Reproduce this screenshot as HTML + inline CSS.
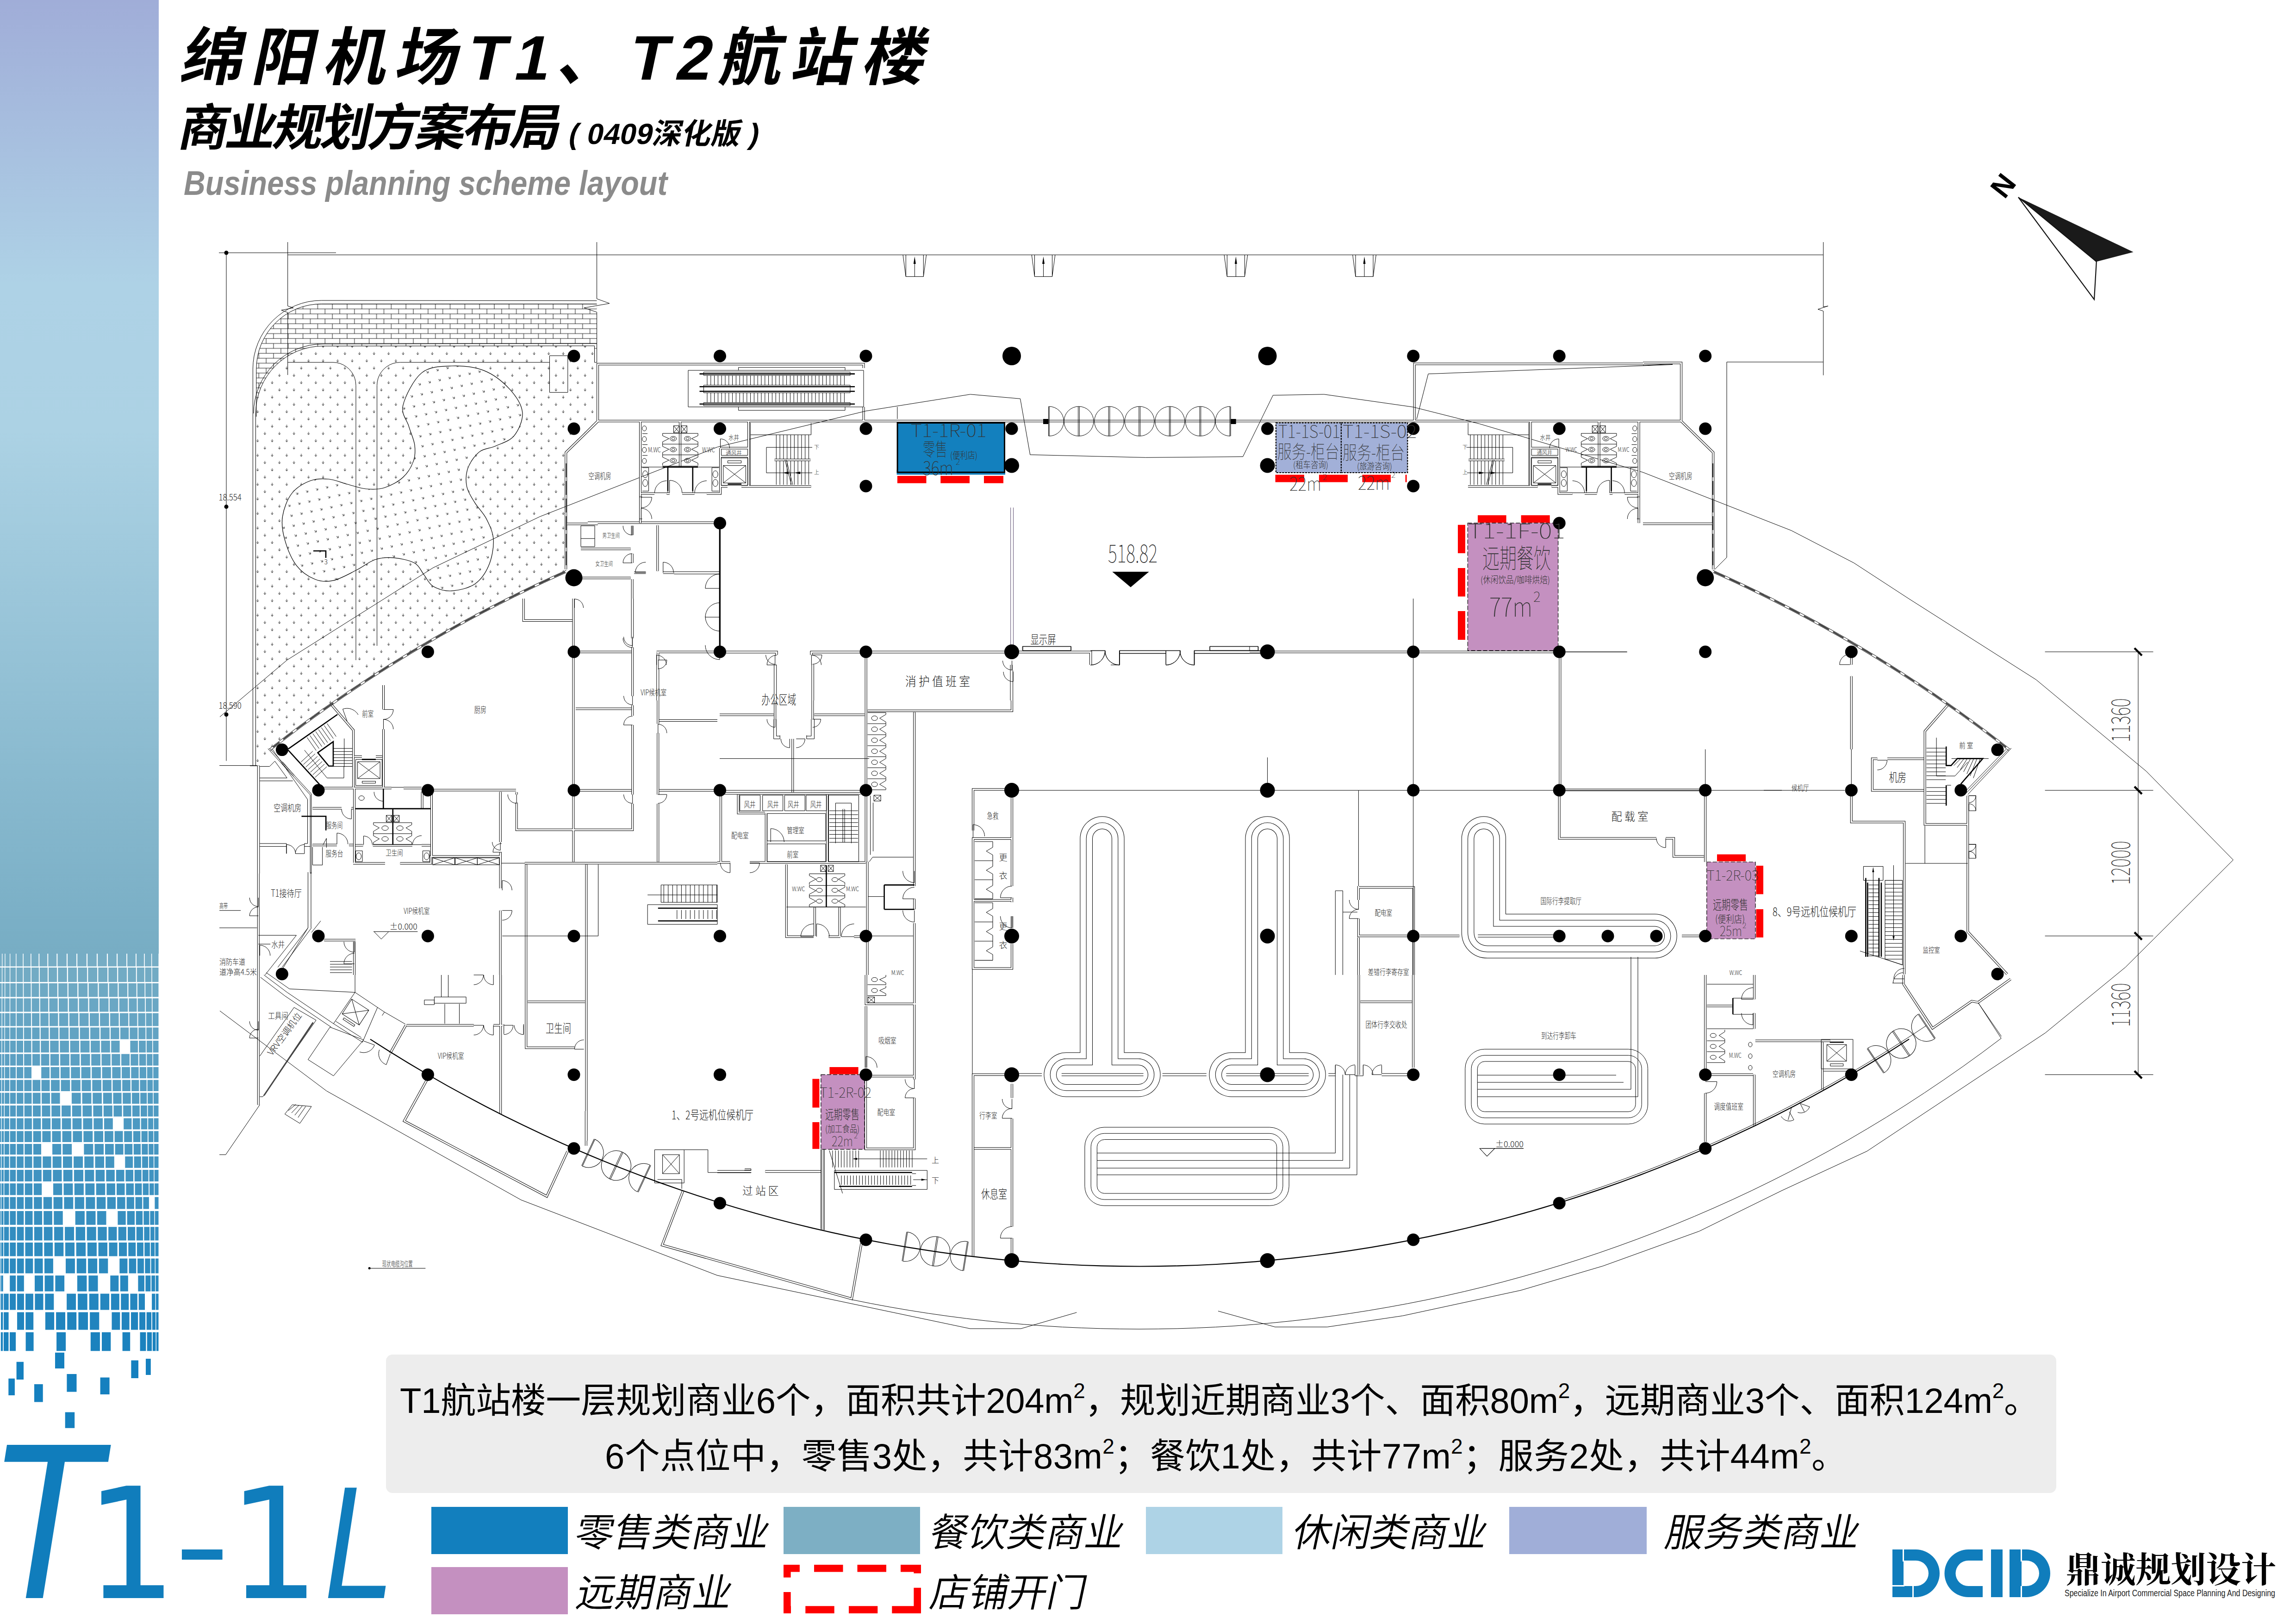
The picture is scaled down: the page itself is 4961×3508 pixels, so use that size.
<!DOCTYPE html><html lang="zh"><head><meta charset="utf-8"><title>绵阳机场T1、T2航站楼 商业规划方案布局</title><style>html,body{margin:0;padding:0;background:#fff}body{width:4961px;height:3508px;overflow:hidden}svg{display:block}</style></head><body><svg width="4961" height="3508" viewBox="0 0 4961 3508"><defs>
<linearGradient id="sb" x1="0" y1="0" x2="0" y2="1"><stop offset="0" stop-color="#a0add8"/><stop offset="0.30" stop-color="#aed2e6"/><stop offset="0.45" stop-color="#acd2e4"/><stop offset="1" stop-color="#77adc4"/></linearGradient>
</defs>
<rect x="0" y="0" width="343" height="2060" fill="url(#sb)"/>
<g id="mosaic"><path fill="#76adc5" d="M0 2058.5H4.1V2087.4H0ZM5.4 2058.5H10.3V2087.4H5.4ZM11.6 2058.5H21V2087.4H11.6ZM22.3 2058.5H34.1V2087.4H22.3ZM35.5 2058.5H49.3V2087.4H35.5ZM50.9 2058.5H66V2087.4H50.9ZM67.7 2058.5H83.4V2087.4H67.7ZM85.3 2058.5H102.3V2087.4H85.3ZM104.3 2058.5H122.3V2087.4H104.3ZM124.4 2058.5H143.9V2087.4H124.4ZM146 2058.5H165.1V2087.4H146ZM167.2 2058.5H186.9V2087.4H167.2ZM189.1 2058.5H208.9V2087.4H189.1ZM211.1 2058.5H230.9V2087.4H211.1ZM233.1 2058.5H252V2087.4H233.1ZM254.1 2058.5H273.1V2087.4H254.1ZM275.1 2058.5H293V2087.4H275.1ZM294.9 2058.5H311.1V2087.4H294.9ZM312.8 2058.5H326.9V2087.4H312.8ZM328.4 2058.5H342.5V2087.4H328.4Z"/><path fill="#72abc4" d="M0 2090.1H3.9V2121.2H0ZM5.2 2090.1H10.1V2121.2H5.2ZM11.4 2090.1H20.9V2121.2H11.4ZM22.3 2090.1H34.1V2121.2H22.3ZM35.6 2090.1H49.4V2121.2H35.6ZM51.1 2090.1H66.3V2121.2H51.1ZM68.1 2090.1H83.9V2121.2H68.1ZM85.8 2090.1H102.9V2121.2H85.8ZM105 2090.1H123.1V2121.2H105ZM125.3 2090.1H144.7V2121.2H125.3ZM147 2090.1H166.1V2121.2H147ZM168.3 2090.1H188.1V2121.2H168.3ZM190.3 2090.1H210.1V2121.2H190.3ZM212.3 2090.1H232.1V2121.2H212.3ZM234.3 2090.1H253.1V2121.2H234.3ZM255.3 2090.1H274.1V2121.2H255.3ZM276.2 2090.1H293.8V2121.2H276.2ZM295.8 2090.1H311.8V2121.2H295.8ZM313.5 2090.1H327.3V2121.2H313.5ZM328.8 2090.1H342.5V2121.2H328.8Z"/><path fill="#6ea9c4" d="M0 2124H3.8V2153.6H0ZM5.1 2124H10V2153.6H5.1ZM11.3 2124H20.9V2153.6H11.3ZM22.2 2124H34.1V2153.6H22.2ZM35.7 2124H49.6V2153.6H35.7ZM51.3 2124H66.6V2153.6H51.3ZM68.4 2124H84.3V2153.6H68.4ZM86.3 2124H103.6V2153.6H86.3ZM105.7 2124H123.9V2153.6H105.7ZM126.1 2124H145.7V2153.6H126.1ZM147.9 2124H167.2V2153.6H147.9ZM169.5 2124H189.2V2153.6H169.5ZM191.6 2124H211.3V2153.6H191.6ZM213.6 2124H233.3V2153.6H213.6ZM235.6 2124H254.3V2153.6H235.6ZM256.5 2124H275.2V2153.6H256.5ZM277.3 2124H294.7V2153.6H277.3ZM296.7 2124H312.5V2153.6H296.7ZM314.2 2124H327.7V2153.6H314.2ZM329.2 2124H342.5V2153.6H329.2Z"/><path fill="#6aa7c4" d="M0 2156.5H3.6V2185.5H0ZM4.9 2156.5H9.8V2185.5H4.9ZM11.1 2156.5H20.8V2185.5H11.1ZM22.2 2156.5H34.1V2185.5H22.2ZM35.7 2156.5H49.7V2185.5H35.7ZM51.5 2156.5H66.8V2185.5H51.5ZM68.7 2156.5H84.8V2185.5H68.7ZM86.8 2156.5H104.2V2185.5H86.8ZM106.4 2156.5H124.7V2185.5H106.4ZM127 2156.5H146.5V2185.5H127ZM148.9 2156.5H168.2V2185.5H148.9ZM170.6 2156.5H190.4V2185.5H170.6ZM192.8 2156.5H212.5V2185.5H192.8ZM214.9 2156.5H234.5V2185.5H214.9ZM236.8 2156.5H255.4V2185.5H236.8ZM257.7 2156.5H276.2V2185.5H257.7ZM278.4 2156.5H295.6V2185.5H278.4ZM297.6 2156.5H313.1V2185.5H297.6ZM314.9 2156.5H328V2185.5H314.9ZM329.6 2156.5H342.5V2185.5H329.6Z"/><path fill="#66a5c4" d="M0 2188.5H3.5V2216.5H0ZM4.8 2188.5H9.6V2216.5H4.8ZM10.9 2188.5H20.7V2216.5H10.9ZM22.1 2188.5H34.1V2216.5H22.1ZM35.8 2188.5H49.8V2216.5H35.8ZM51.6 2188.5H67.1V2216.5H51.6ZM69.1 2188.5H85.2V2216.5H69.1ZM87.3 2188.5H104.8V2216.5H87.3ZM107 2188.5H125.4V2216.5H107ZM127.8 2188.5H147.4V2216.5H127.8ZM149.9 2188.5H169.2V2216.5H149.9ZM171.7 2188.5H191.5V2216.5H171.7ZM194 2188.5H213.7V2216.5H194ZM216.1 2188.5H235.6V2216.5H216.1ZM238 2188.5H256.6V2216.5H238ZM258.9 2188.5H277.2V2216.5H258.9ZM279.4 2188.5H296.5V2216.5H279.4ZM298.5 2188.5H313.8V2216.5H298.5ZM315.5 2188.5H328.4V2216.5H315.5ZM329.9 2188.5H342.5V2216.5H329.9Z"/><path fill="#62a3c3" d="M0 2219.6H3.4V2244.8H0ZM4.7 2219.6H9.5V2244.8H4.7ZM10.8 2219.6H20.6V2244.8H10.8ZM22 2219.6H34.1V2244.8H22ZM35.8 2219.6H49.9V2244.8H35.8ZM51.8 2219.6H67.3V2244.8H51.8ZM69.4 2219.6H85.6V2244.8H69.4ZM87.8 2219.6H105.3V2244.8H87.8ZM107.7 2219.6H126.2V2244.8H107.7ZM128.6 2219.6H148.2V2244.8H128.6ZM150.7 2219.6H170.2V2244.8H150.7ZM172.7 2219.6H192.5V2244.8H172.7ZM195.1 2219.6H214.8V2244.8H195.1ZM217.3 2219.6H236.7V2244.8H217.3ZM239.1 2219.6H257.6V2244.8H239.1ZM260 2219.6H278.2V2244.8H260ZM280.4 2219.6H297.3V2244.8H280.4ZM299.3 2219.6H314.4V2244.8H299.3ZM316.2 2219.6H328.7V2244.8H316.2ZM330.3 2219.6H342.5V2244.8H330.3Z"/><path fill="#5fa2c3" d="M0 2248H3.2V2273.4H0ZM4.5 2248H9.3V2273.4H4.5ZM10.6 2248H20.5V2273.4H10.6ZM22 2248H34.1V2273.4H22ZM35.9 2248H50V2273.4H35.9ZM52 2248H67.5V2273.4H52ZM69.7 2248H86V2273.4H69.7ZM88.3 2248H105.9V2273.4H88.3ZM108.3 2248H126.8V2273.4H108.3ZM129.4 2248H149V2273.4H129.4ZM151.6 2248H171.1V2273.4H151.6ZM173.7 2248H193.5V2273.4H173.7ZM196.1 2248H215.8V2273.4H196.1ZM218.4 2248H237.7V2273.4H218.4ZM240.2 2248H258.6V2273.4H240.2ZM281.4 2248H298V2273.4H281.4ZM300.1 2248H314.9V2273.4H300.1ZM316.7 2248H329V2273.4H316.7ZM330.6 2248H342.5V2273.4H330.6Z"/><path fill="#5ca0c3" d="M0 2276.7H3.1V2301.7H0ZM4.4 2276.7H9.2V2301.7H4.4ZM10.5 2276.7H20.4V2301.7H10.5ZM22 2276.7H34.1V2301.7H22ZM35.9 2276.7H50.1V2301.7H35.9ZM52.1 2276.7H67.8V2301.7H52.1ZM70 2276.7H86.4V2301.7H70ZM88.7 2276.7H106.4V2301.7H88.7ZM108.9 2276.7H127.5V2301.7H108.9ZM130.1 2276.7H149.8V2301.7H130.1ZM152.4 2276.7H172V2301.7H152.4ZM174.7 2276.7H194.5V2301.7H174.7ZM197.2 2276.7H216.9V2301.7H197.2ZM219.5 2276.7H238.7V2301.7H219.5ZM241.3 2276.7H259.6V2301.7H241.3ZM262.1 2276.7H280V2301.7H262.1ZM282.3 2276.7H298.8V2301.7H282.3ZM300.9 2276.7H315.5V2301.7H300.9ZM317.3 2276.7H329.4V2301.7H317.3ZM330.9 2276.7H342.5V2301.7H330.9Z"/><path fill="#589fc3" d="M0 2305.1H3V2329.3H0ZM4.3 2305.1H9V2329.3H4.3ZM10.4 2305.1H20.4V2329.3H10.4ZM21.9 2305.1H34.1V2329.3H21.9ZM36 2305.1H50.2V2329.3H36ZM52.3 2305.1H68V2329.3H52.3ZM89.2 2305.1H107V2329.3H89.2ZM109.5 2305.1H128.2V2329.3H109.5ZM130.9 2305.1H150.5V2329.3H130.9ZM153.3 2305.1H172.9V2329.3H153.3ZM175.6 2305.1H195.5V2329.3H175.6ZM198.3 2305.1H217.9V2329.3H198.3ZM220.6 2305.1H239.8V2329.3H220.6ZM242.4 2305.1H260.6V2329.3H242.4ZM263.1 2305.1H280.9V2329.3H263.1ZM283.3 2305.1H299.6V2329.3H283.3ZM301.7 2305.1H316.1V2329.3H301.7ZM317.9 2305.1H329.7V2329.3H317.9ZM331.2 2305.1H342.5V2329.3H331.2Z"/><path fill="#559dc2" d="M0 2332.8H2.9V2357H0ZM4.2 2332.8H8.9V2357H4.2ZM10.3 2332.8H20.3V2357H10.3ZM21.9 2332.8H34.1V2357H21.9ZM36 2332.8H50.3V2357H36ZM52.4 2332.8H68.2V2357H52.4ZM70.5 2332.8H87.2V2357H70.5ZM89.6 2332.8H107.5V2357H89.6ZM110.1 2332.8H128.9V2357H110.1ZM131.6 2332.8H151.3V2357H131.6ZM154.1 2332.8H173.8V2357H154.1ZM176.6 2332.8H196.5V2357H176.6ZM199.3 2332.8H218.9V2357H199.3ZM221.7 2332.8H240.8V2357H221.7ZM243.4 2332.8H261.6V2357H243.4ZM264.2 2332.8H281.8V2357H264.2ZM284.2 2332.8H300.3V2357H284.2ZM302.5 2332.8H316.7V2357H302.5ZM318.5 2332.8H330V2357H318.5ZM331.6 2332.8H342.5V2357H331.6Z"/><path fill="#529cc2" d="M0 2360.6H2.8V2384.2H0ZM4.1 2360.6H8.8V2384.2H4.1ZM10.2 2360.6H20.2V2384.2H10.2ZM21.8 2360.6H34.1V2384.2H21.8ZM36.1 2360.6H50.4V2384.2H36.1ZM52.6 2360.6H68.4V2384.2H52.6ZM70.8 2360.6H87.5V2384.2H70.8ZM90.1 2360.6H108V2384.2H90.1ZM110.7 2360.6H129.5V2384.2H110.7ZM154.9 2360.6H174.6V2384.2H154.9ZM177.6 2360.6H197.4V2384.2H177.6ZM200.3 2360.6H219.9V2384.2H200.3ZM222.8 2360.6H241.8V2384.2H222.8ZM244.5 2360.6H262.6V2384.2H244.5ZM265.2 2360.6H282.7V2384.2H265.2ZM285.1 2360.6H301.1V2384.2H285.1ZM303.2 2360.6H317.2V2384.2H303.2ZM319.1 2360.6H330.3V2384.2H319.1ZM331.9 2360.6H342.5V2384.2H331.9Z"/><path fill="#4f9ac2" d="M0 2387.9H2.6V2411.7H0ZM3.9 2387.9H8.6V2411.7H3.9ZM10 2387.9H20.1V2411.7H10ZM21.8 2387.9H34.1V2411.7H21.8ZM36.1 2387.9H50.5V2411.7H36.1ZM52.7 2387.9H68.7V2411.7H52.7ZM71.1 2387.9H87.9V2411.7H71.1ZM90.5 2387.9H108.5V2411.7H90.5ZM111.3 2387.9H130.2V2411.7H111.3ZM133.1 2387.9H152.8V2411.7H133.1ZM155.8 2387.9H175.5V2411.7H155.8ZM178.5 2387.9H198.4V2411.7H178.5ZM201.4 2387.9H220.9V2411.7H201.4ZM223.8 2387.9H242.8V2411.7H223.8ZM245.5 2387.9H263.5V2411.7H245.5ZM266.2 2387.9H283.5V2411.7H266.2ZM286 2387.9H301.8V2411.7H286ZM304 2387.9H317.8V2411.7H304ZM319.6 2387.9H330.6V2411.7H319.6ZM332.2 2387.9H342.5V2411.7H332.2Z"/><path fill="#4c99c2" d="M0 2415.5H2.5V2439.4H0ZM3.8 2415.5H8.5V2439.4H3.8ZM9.9 2415.5H20V2439.4H9.9ZM21.7 2415.5H34.1V2439.4H21.7ZM36.2 2415.5H50.6V2439.4H36.2ZM52.9 2415.5H68.9V2439.4H52.9ZM71.4 2415.5H88.3V2439.4H71.4ZM91 2415.5H109.1V2439.4H91ZM111.9 2415.5H130.8V2439.4H111.9ZM133.8 2415.5H153.5V2439.4H133.8ZM156.6 2415.5H176.4V2439.4H156.6ZM179.5 2415.5H199.4V2439.4H179.5ZM202.4 2415.5H222V2439.4H202.4ZM224.9 2415.5H243.8V2439.4H224.9ZM267.2 2415.5H284.4V2439.4H267.2ZM286.9 2415.5H302.5V2439.4H286.9ZM304.8 2415.5H318.3V2439.4H304.8ZM320.2 2415.5H331V2439.4H320.2ZM332.5 2415.5H342.5V2439.4H332.5Z"/><path fill="#4998c1" d="M0 2443.3H2.4V2467H0ZM3.7 2443.3H8.3V2467H3.7ZM9.8 2443.3H19.9V2467H9.8ZM21.7 2443.3H34.1V2467H21.7ZM36.2 2443.3H50.7V2467H36.2ZM53.1 2443.3H69.1V2467H53.1ZM71.7 2443.3H88.7V2467H71.7ZM91.4 2443.3H109.6V2467H91.4ZM112.5 2443.3H131.5V2467H112.5ZM134.6 2443.3H154.3V2467H134.6ZM157.4 2443.3H177.3V2467H157.4ZM180.4 2443.3H200.3V2467H180.4ZM203.4 2443.3H223V2467H203.4ZM226 2443.3H244.8V2467H226ZM247.7 2443.3H265.5V2467H247.7ZM268.2 2443.3H285.3V2467H268.2ZM287.9 2443.3H303.3V2467H287.9ZM305.6 2443.3H318.9V2467H305.6ZM320.8 2443.3H331.3V2467H320.8ZM332.8 2443.3H342.5V2467H332.8Z"/><path fill="#4696c1" d="M0 2471H2.3V2494H0ZM3.6 2471H8.2V2494H3.6ZM9.7 2471H19.8V2494H9.7ZM21.6 2471H34.1V2494H21.6ZM36.3 2471H50.8V2494H36.3ZM53.2 2471H69.3V2494H53.2ZM72 2471H89V2494H72ZM113.1 2471H132.2V2494H113.1ZM135.3 2471H155.1V2494H135.3ZM181.4 2471H201.3V2494H181.4ZM204.5 2471H224V2494H204.5ZM227 2471H245.8V2494H227ZM248.7 2471H266.5V2494H248.7ZM269.3 2471H286.2V2494H269.3ZM288.8 2471H304V2494H288.8ZM306.3 2471H319.5V2494H306.3ZM321.3 2471H331.6V2494H321.3ZM333.1 2471H342.5V2494H333.1Z"/><path fill="#4395c1" d="M0 2498.1H2.2V2522.7H0ZM3.5 2498.1H8.1V2522.7H3.5ZM9.6 2498.1H19.7V2522.7H9.6ZM21.6 2498.1H34.1V2522.7H21.6ZM36.3 2498.1H50.9V2522.7H36.3ZM53.4 2498.1H69.5V2522.7H53.4ZM72.3 2498.1H89.4V2522.7H72.3ZM92.3 2498.1H110.6V2522.7H92.3ZM113.7 2498.1H132.8V2522.7H113.7ZM136 2498.1H155.8V2522.7H136ZM159.1 2498.1H179.1V2522.7H159.1ZM182.3 2498.1H202.3V2522.7H182.3ZM205.5 2498.1H225V2522.7H205.5ZM228.1 2498.1H246.8V2522.7H228.1ZM270.3 2498.1H287.1V2522.7H270.3ZM289.7 2498.1H304.8V2522.7H289.7ZM307.1 2498.1H320V2522.7H307.1ZM321.9 2498.1H331.9V2522.7H321.9ZM333.4 2498.1H342.5V2522.7H333.4Z"/><path fill="#4093c1" d="M0 2526.9H2V2551.9H0ZM3.3 2526.9H7.9V2551.9H3.3ZM9.4 2526.9H19.6V2551.9H9.4ZM21.5 2526.9H34.1V2551.9H21.5ZM36.4 2526.9H51V2551.9H36.4ZM53.5 2526.9H69.8V2551.9H53.5ZM72.6 2526.9H89.8V2551.9H72.6ZM92.8 2526.9H111.2V2551.9H92.8ZM114.3 2526.9H133.5V2551.9H114.3ZM136.8 2526.9H156.6V2551.9H136.8ZM159.9 2526.9H180V2551.9H159.9ZM183.3 2526.9H203.3V2551.9H183.3ZM206.6 2526.9H226.1V2551.9H206.6ZM229.3 2526.9H247.8V2551.9H229.3ZM250.9 2526.9H268.5V2551.9H250.9ZM271.4 2526.9H288V2551.9H271.4ZM290.7 2526.9H305.6V2551.9H290.7ZM307.9 2526.9H320.6V2551.9H307.9ZM322.5 2526.9H332.3V2551.9H322.5ZM333.7 2526.9H342.5V2551.9H333.7Z"/><path fill="#3d92c1" d="M0 2556.2H1.9V2581.4H0ZM3.2 2556.2H7.8V2581.4H3.2ZM9.3 2556.2H19.5V2581.4H9.3ZM21.5 2556.2H34.1V2581.4H21.5ZM36.4 2556.2H51.1V2581.4H36.4ZM53.7 2556.2H70V2581.4H53.7ZM72.9 2556.2H90.2V2581.4H72.9ZM115 2556.2H134.2V2581.4H115ZM137.6 2556.2H157.4V2581.4H137.6ZM160.8 2556.2H180.9V2581.4H160.8ZM184.4 2556.2H204.3V2581.4H184.4ZM207.7 2556.2H227.2V2581.4H207.7ZM230.4 2556.2H248.9V2581.4H230.4ZM252 2556.2H269.5V2581.4H252ZM272.4 2556.2H289V2581.4H272.4ZM291.6 2556.2H306.4V2581.4H291.6ZM308.7 2556.2H321.2V2581.4H308.7ZM323.1 2556.2H332.6V2581.4H323.1ZM334.1 2556.2H342.5V2581.4H334.1Z"/><path fill="#3a90c0" d="M0 2585.8H1.8V2611.6H0ZM3.1 2585.8H7.6V2611.6H3.1ZM9.2 2585.8H19.4V2611.6H9.2ZM21.4 2585.8H34.1V2611.6H21.4ZM36.5 2585.8H51.2V2611.6H36.5ZM53.9 2585.8H70.2V2611.6H53.9ZM73.2 2585.8H90.6V2611.6H73.2ZM93.8 2585.8H112.3V2611.6H93.8ZM115.6 2585.8H135V2611.6H115.6ZM138.4 2585.8H158.2V2611.6H138.4ZM161.7 2585.8H181.9V2611.6H161.7ZM185.4 2585.8H205.4V2611.6H185.4ZM208.8 2585.8H228.3V2611.6H208.8ZM231.6 2585.8H250V2611.6H231.6ZM253.1 2585.8H270.6V2611.6H253.1ZM273.6 2585.8H289.9V2611.6H273.6ZM292.6 2585.8H307.2V2611.6H292.6ZM309.5 2585.8H321.9V2611.6H309.5ZM334.4 2585.8H342.5V2611.6H334.4Z"/><path fill="#378fc0" d="M0 2616.1H1.6V2645.7H0ZM2.9 2616.1H7.5V2645.7H2.9ZM9 2616.1H19.3V2645.7H9ZM21.4 2616.1H34.1V2645.7H21.4ZM36.6 2616.1H51.3V2645.7H36.6ZM54.1 2616.1H70.5V2645.7H54.1ZM73.5 2616.1H91.1V2645.7H73.5ZM94.3 2616.1H112.9V2645.7H94.3ZM116.3 2616.1H135.7V2645.7H116.3ZM162.7 2616.1H182.9V2645.7H162.7ZM186.5 2616.1H206.5V2645.7H186.5ZM210 2616.1H229.5V2645.7H210ZM254.4 2616.1H271.7V2645.7H254.4ZM274.7 2616.1H291V2645.7H274.7ZM293.7 2616.1H308.1V2645.7H293.7ZM310.4 2616.1H322.5V2645.7H310.4ZM324.4 2616.1H333.3V2645.7H324.4ZM334.8 2616.1H342.5V2645.7H334.8Z"/><path fill="#338dc0" d="M0 2650.3H1.5V2679.4H0ZM2.8 2650.3H7.3V2679.4H2.8ZM8.9 2650.3H19.2V2679.4H8.9ZM21.3 2650.3H34.1V2679.4H21.3ZM36.6 2650.3H51.4V2679.4H36.6ZM54.3 2650.3H70.8V2679.4H54.3ZM73.9 2650.3H91.5V2679.4H73.9ZM94.8 2650.3H113.5V2679.4H94.8ZM117 2650.3H136.5V2679.4H117ZM140.1 2650.3H160V2679.4H140.1ZM163.7 2650.3H184V2679.4H163.7ZM187.7 2650.3H207.7V2679.4H187.7ZM211.3 2650.3H230.7V2679.4H211.3ZM234.2 2650.3H252.4V2679.4H234.2ZM255.7 2650.3H272.9V2679.4H255.7ZM276 2650.3H292.1V2679.4H276ZM294.8 2650.3H309V2679.4H294.8ZM311.4 2650.3H323.2V2679.4H311.4ZM325.1 2650.3H333.7V2679.4H325.1ZM335.2 2650.3H342.5V2679.4H335.2Z"/><path fill="#2f8cc0" d="M0 2684.1H1.3V2713.6H0ZM2.6 2684.1H7.1V2713.6H2.6ZM8.7 2684.1H19.1V2713.6H8.7ZM21.3 2684.1H34.1V2713.6H21.3ZM36.7 2684.1H51.5V2713.6H36.7ZM54.5 2684.1H71V2713.6H54.5ZM74.2 2684.1H92V2713.6H74.2ZM95.4 2684.1H114.2V2713.6H95.4ZM117.8 2684.1H137.3V2713.6H117.8ZM141 2684.1H161V2713.6H141ZM164.7 2684.1H185.1V2713.6H164.7ZM188.9 2684.1H208.9V2713.6H188.9ZM212.6 2684.1H232V2713.6H212.6ZM235.5 2684.1H253.6V2713.6H235.5ZM257 2684.1H274.2V2713.6H257ZM277.3 2684.1H293.2V2713.6H277.3ZM296 2684.1H309.9V2713.6H296ZM312.3 2684.1H323.9V2713.6H312.3ZM325.8 2684.1H334.1V2713.6H325.8ZM335.6 2684.1H342.5V2713.6H335.6Z"/><path fill="#2c8abf" d="M0 2718.4H1.2V2750.4H0ZM2.5 2718.4H6.9V2750.4H2.5ZM8.6 2718.4H19V2750.4H8.6ZM21.2 2718.4H34.1V2750.4H21.2ZM36.8 2718.4H51.6V2750.4H36.8ZM54.7 2718.4H71.3V2750.4H54.7ZM74.6 2718.4H92.5V2750.4H74.6ZM96 2718.4H114.9V2750.4H96ZM142 2718.4H161.9V2750.4H142ZM165.8 2718.4H186.2V2750.4H165.8ZM190.1 2718.4H210.1V2750.4H190.1ZM213.9 2718.4H233.3V2750.4H213.9ZM258.3 2718.4H275.4V2750.4H258.3ZM278.6 2718.4H294.3V2750.4H278.6ZM297.1 2718.4H310.9V2750.4H297.1ZM313.3 2718.4H324.6V2750.4H313.3ZM326.5 2718.4H334.6V2750.4H326.5ZM336 2718.4H342.5V2750.4H336Z"/><path fill="#2888bf" d="M0 2755.3H1V2789.5H0ZM2.3 2755.3H6.7V2789.5H2.3ZM21.2 2755.3H34.1V2789.5H21.2ZM36.8 2755.3H51.8V2789.5H36.8ZM75 2755.3H93V2789.5H75ZM96.6 2755.3H115.6V2789.5H96.6ZM119.4 2755.3H139.1V2789.5H119.4ZM166.9 2755.3H187.4V2789.5H166.9ZM191.4 2755.3H211.5V2789.5H191.4ZM238.3 2755.3H256.3V2789.5H238.3ZM259.8 2755.3H276.8V2789.5H259.8ZM298.4 2755.3H311.9V2789.5H298.4ZM314.4 2755.3H325.4V2789.5H314.4ZM327.3 2755.3H335V2789.5H327.3ZM336.4 2755.3H342.5V2789.5H336.4Z"/><path fill="#2486bf" d="M0 2794.6H0.8V2829.4H0ZM2.1 2794.6H6.5V2829.4H2.1ZM8.2 2794.6H18.7V2829.4H8.2ZM21.1 2794.6H34.1V2829.4H21.1ZM36.9 2794.6H51.9V2829.4H36.9ZM55.1 2794.6H71.9V2829.4H55.1ZM75.4 2794.6H93.5V2829.4H75.4ZM97.3 2794.6H116.3V2829.4H97.3ZM144.1 2794.6H164V2829.4H144.1ZM168.1 2794.6H188.7V2829.4H168.1ZM192.8 2794.6H212.8V2829.4H192.8ZM216.8 2794.6H236.1V2829.4H216.8ZM239.9 2794.6H257.8V2829.4H239.9ZM261.3 2794.6H278.2V2829.4H261.3ZM281.4 2794.6H296.8V2829.4H281.4ZM299.7 2794.6H313V2829.4H299.7ZM328.1 2794.6H335.5V2829.4H328.1ZM336.9 2794.6H342.5V2829.4H336.9Z"/><path fill="#2084be" d="M2 2834.6H6.3V2872.4H2ZM8.1 2834.6H18.6V2872.4H8.1ZM37 2834.6H52V2872.4H37ZM55.3 2834.6H72.2V2872.4H55.3ZM97.9 2834.6H117.1V2872.4H97.9ZM121.1 2834.6H141V2872.4H121.1ZM145.2 2834.6H165.2V2872.4H145.2ZM169.4 2834.6H190V2872.4H169.4ZM194.2 2834.6H214.3V2872.4H194.2ZM241.5 2834.6H259.3V2872.4H241.5ZM262.9 2834.6H279.6V2872.4H262.9ZM283 2834.6H298.2V2872.4H283ZM301.1 2834.6H314.1V2872.4H301.1ZM316.6 2834.6H327.1V2872.4H316.6ZM328.9 2834.6H336V2872.4H328.9ZM337.4 2834.6H342.5V2872.4H337.4Z"/><path fill="#1b82be" d="M1.8 2877.7H6.1V2918.3H1.8ZM7.9 2877.7H18.5V2918.3H7.9ZM21 2877.7H34.1V2918.3H21ZM55.6 2877.7H72.6V2918.3H55.6ZM122.1 2877.7H142.1V2918.3H122.1ZM195.8 2877.7H215.9V2918.3H195.8ZM220 2877.7H239.3V2918.3H220ZM264.6 2877.7H281.2V2918.3H264.6ZM302.6 2877.7H315.4V2918.3H302.6ZM317.8 2877.7H328V2918.3H317.8ZM329.8 2877.7H336.5V2918.3H329.8ZM337.9 2877.7H342.5V2918.3H337.9Z"/><path fill="#1580bf" d="M119 2921.8H139V2956H119ZM35.6 2941.8H51V2980H35.6ZM18.3 2977.8H31.9V3014H18.3ZM74 2990H92.7V3028.6H74ZM144.4 2968H165.5V3006.5H144.4ZM216.6 2975.6H236.6V3012H216.6ZM283.4 2938.6H299V2977H283.4ZM315 2935H325.8V2970H315ZM140.7 3050.6H161.2V3084.7H140.7Z"/></g>
<g font-family='"Liberation Sans","Noto Sans CJK SC",sans-serif'>
<text id="t1" x="0" y="0" transform="translate(386,172) skewX(-12)" font-size="136" font-weight="700" letter-spacing="18.5">绵阳机场T1、T2航站楼</text>
<text id="t2" x="0" y="0" transform="translate(381,314) skewX(-12)" font-size="108" font-weight="700" letter-spacing="-5.5">商业规划方案布局</text>
<text id="t2b" x="0" y="0" transform="translate(1226,311) skewX(-12)" font-size="63" font-weight="700" letter-spacing="0.5">( 0409深化版 )</text>
<text id="t3" x="397" y="421" font-size="74" font-weight="700" font-style="italic" fill="#8b8b8b" textLength="1045" lengthAdjust="spacingAndGlyphs">Business planning scheme layout</text>
</g>
<g id="plan" fill="none" stroke="#000" stroke-linecap="butt">
<defs><pattern id="brick" x="678.4" y="651.7" width="31.8" height="21.3" patternUnits="userSpaceOnUse"><path d="M0 5H31.8M0 15.65H31.8M8 5V15.65M23.9 15.65V21.3M23.9 0V5" stroke="#000" stroke-width="0.9" fill="none"/></pattern><pattern id="stp" x="674.4" y="757" width="31.45" height="31.4" patternUnits="userSpaceOnUse"><path d="M8 3.5V9M5.6 6.4L8 9.2L10.4 6.4M23.7 19.2V24.7M21.3 22.1L23.7 24.9L26.1 22.1" stroke="#000" stroke-width="0.85" fill="none"/></pattern><pattern id="stq" x="0" y="0" width="22" height="22" patternUnits="userSpaceOnUse" patternTransform="rotate(-12)"><path d="M8 8L12 12M12 8.5V12H8.5" stroke="#000" stroke-width="0.9" fill="none"/></pattern></defs><path d="M553.9 960L553.9 797 553.9 797 554.6 783.2 556.6 769.6 559.9 756.2 564.6 743.2 570.5 730.8 577.6 718.9 585.8 707.9 595.1 697.7 605.3 688.4 616.3 680.2 628.2 673.1 640.6 667.2 653.6 662.5 667 659.2 680.6 657.2 694.4 656.5 1289.5 656.5 1289.5 760 700 760Z" fill="url(#brick)" stroke="none"/><path d="M552.5 1654L552.5 893 552.5 893 553.2 878.7 555.3 864.6 558.8 850.8 563.6 837.3 569.7 824.4 577 812.2 585.5 800.7 595.1 790.1 605.7 780.5 617.2 772 629.4 764.7 642.3 758.6 655.8 753.8 669.6 750.3 683.7 748.2 698 747.5 1284.5 747 1284.5 782.7 1289.6 782.7 1289.6 908 1220 978.4 1220 1231 1223.5 1231.9 1207.5 1239.1 1191.5 1246.4 1175.5 1253.8 1159.5 1261.3 1143.4 1268.9 1127.4 1276.6 1111.4 1284.5 1095.4 1292.4 1079.4 1300.5 1063.4 1308.7 1047.4 1317.1 1031.3 1325.5 1015.3 1334.1 999.3 1342.8 983.3 1351.6 967.3 1360.5 951.3 1369.6 935.3 1378.8 919.3 1388.1 903.2 1397.6 887.2 1407.2 871.2 1416.9 855.2 1426.7 839.2 1436.7 823.2 1446.9 807.2 1457.2 791.2 1467.6 775.1 1478.1 759.1 1488.8 743.1 1499.7 727.1 1510.7 711.1 1521.8 695.1 1533.1 679.1 1544.6 663.1 1556.2 647 1568 631 1579.9 615 1592.1 599 1604.3 583 1616.8 583 1618 552.5 1654Z" fill="#fff" stroke="none"/><path d="M552.5 1654L552.5 893 552.5 893 553.2 878.7 555.3 864.6 558.8 850.8 563.6 837.3 569.7 824.4 577 812.2 585.5 800.7 595.1 790.1 605.7 780.5 617.2 772 629.4 764.7 642.3 758.6 655.8 753.8 669.6 750.3 683.7 748.2 698 747.5 1284.5 747 1284.5 782.7 1289.6 782.7 1289.6 908 1220 978.4 1220 1231 1223.5 1231.9 1207.5 1239.1 1191.5 1246.4 1175.5 1253.8 1159.5 1261.3 1143.4 1268.9 1127.4 1276.6 1111.4 1284.5 1095.4 1292.4 1079.4 1300.5 1063.4 1308.7 1047.4 1317.1 1031.3 1325.5 1015.3 1334.1 999.3 1342.8 983.3 1351.6 967.3 1360.5 951.3 1369.6 935.3 1378.8 919.3 1388.1 903.2 1397.6 887.2 1407.2 871.2 1416.9 855.2 1426.7 839.2 1436.7 823.2 1446.9 807.2 1457.2 791.2 1467.6 775.1 1478.1 759.1 1488.8 743.1 1499.7 727.1 1510.7 711.1 1521.8 695.1 1533.1 679.1 1544.6 663.1 1556.2 647 1568 631 1579.9 615 1592.1 599 1604.3 583 1616.8 583 1618 552.5 1654Z" fill="url(#stp)" stroke="none"/><path d="M870.8 875.7C875.4 856.5 893.4 819.8 910.9 805.6C928.4 791.4 953.5 791.4 976.0 790.5C998.5 789.7 1025.3 792.2 1046.1 800.6C1067.0 808.9 1087.4 825.6 1101.2 840.6C1115.0 855.7 1127.1 874.0 1128.8 890.7C1130.4 907.4 1120.8 928.7 1111.2 940.8C1101.6 952.9 1083.7 957.5 1071.2 963.3C1058.6 969.2 1046.1 967.9 1036.1 975.9C1026.1 983.8 1015.7 998.4 1011.1 1010.9C1006.5 1023.4 1006.1 1038.5 1008.6 1051.0C1011.1 1063.5 1019.0 1074.4 1026.1 1086.1C1033.2 1097.7 1044.5 1107.8 1051.1 1121.1C1057.8 1134.5 1065.3 1149.5 1066.2 1166.2C1067.0 1182.9 1062.8 1205.4 1056.1 1221.3C1049.5 1237.2 1039.4 1252.2 1026.1 1261.4C1012.7 1270.5 991.0 1275.6 976.0 1276.4C961.0 1277.2 945.9 1272.2 935.9 1266.4C925.9 1260.5 922.6 1249.7 915.9 1241.3C909.2 1233.0 906.7 1222.4 895.9 1216.3C885.0 1210.2 865.0 1206.0 850.8 1204.8C836.6 1203.5 824.1 1204.3 810.7 1208.8C797.4 1213.2 785.7 1223.8 770.6 1231.3C755.6 1238.8 735.6 1250.5 720.6 1253.8C705.5 1257.2 693.8 1256.8 680.5 1251.3C667.1 1245.9 651.3 1235.5 640.4 1221.3C629.6 1207.1 620.4 1183.7 615.4 1166.2C610.4 1148.7 607.9 1132.8 610.4 1116.1C612.9 1099.4 620.4 1079.0 630.4 1066.0C640.4 1053.1 657.1 1043.6 670.5 1038.5C683.8 1033.3 697.2 1033.7 710.5 1035.0C723.9 1036.2 737.3 1042.5 750.6 1046.0C764.0 1049.5 777.3 1054.7 790.7 1056.0C804.0 1057.3 817.4 1057.7 830.7 1053.5C844.1 1049.3 860.4 1040.6 870.8 1031.0C881.3 1021.4 889.2 1007.6 893.4 995.9C897.5 984.2 897.5 973.4 895.9 960.8C894.2 948.3 887.5 935.0 883.3 920.8C879.2 906.6 866.2 894.9 870.8 875.7Z" fill="#fff" stroke="none"/><path d="M870.8 875.7C875.4 856.5 893.4 819.8 910.9 805.6C928.4 791.4 953.5 791.4 976.0 790.5C998.5 789.7 1025.3 792.2 1046.1 800.6C1067.0 808.9 1087.4 825.6 1101.2 840.6C1115.0 855.7 1127.1 874.0 1128.8 890.7C1130.4 907.4 1120.8 928.7 1111.2 940.8C1101.6 952.9 1083.7 957.5 1071.2 963.3C1058.6 969.2 1046.1 967.9 1036.1 975.9C1026.1 983.8 1015.7 998.4 1011.1 1010.9C1006.5 1023.4 1006.1 1038.5 1008.6 1051.0C1011.1 1063.5 1019.0 1074.4 1026.1 1086.1C1033.2 1097.7 1044.5 1107.8 1051.1 1121.1C1057.8 1134.5 1065.3 1149.5 1066.2 1166.2C1067.0 1182.9 1062.8 1205.4 1056.1 1221.3C1049.5 1237.2 1039.4 1252.2 1026.1 1261.4C1012.7 1270.5 991.0 1275.6 976.0 1276.4C961.0 1277.2 945.9 1272.2 935.9 1266.4C925.9 1260.5 922.6 1249.7 915.9 1241.3C909.2 1233.0 906.7 1222.4 895.9 1216.3C885.0 1210.2 865.0 1206.0 850.8 1204.8C836.6 1203.5 824.1 1204.3 810.7 1208.8C797.4 1213.2 785.7 1223.8 770.6 1231.3C755.6 1238.8 735.6 1250.5 720.6 1253.8C705.5 1257.2 693.8 1256.8 680.5 1251.3C667.1 1245.9 651.3 1235.5 640.4 1221.3C629.6 1207.1 620.4 1183.7 615.4 1166.2C610.4 1148.7 607.9 1132.8 610.4 1116.1C612.9 1099.4 620.4 1079.0 630.4 1066.0C640.4 1053.1 657.1 1043.6 670.5 1038.5C683.8 1033.3 697.2 1033.7 710.5 1035.0C723.9 1036.2 737.3 1042.5 750.6 1046.0C764.0 1049.5 777.3 1054.7 790.7 1056.0C804.0 1057.3 817.4 1057.7 830.7 1053.5C844.1 1049.3 860.4 1040.6 870.8 1031.0C881.3 1021.4 889.2 1007.6 893.4 995.9C897.5 984.2 897.5 973.4 895.9 960.8C894.2 948.3 887.5 935.0 883.3 920.8C879.2 906.6 866.2 894.9 870.8 875.7Z" fill="url(#stq)" stroke="#000" stroke-width="1.2"/><g fill="none" stroke-linecap="round" stroke-linejoin="round"><path d="M2381.5 1811.4V2321.4M2303.5 2321.4H2459.5" stroke="#000" stroke-width="96.2"/><path d="M2381.5 1811.4V2321.4M2303.5 2321.4H2459.5" stroke="#fff" stroke-width="94.2"/><path d="M2381.5 1811.4V2321.4M2303.5 2321.4H2459.5" stroke="#000" stroke-width="69.6"/><path d="M2381.5 1811.4V2321.4M2303.5 2321.4H2459.5" stroke="#fff" stroke-width="67.6"/><path d="M2381.5 1811.4V2321.4M2303.5 2321.4H2459.5" stroke="#000" stroke-width="43"/><path d="M2381.5 1811.4V2321.4M2303.5 2321.4H2459.5" stroke="#fff" stroke-width="41"/></g><g fill="none" stroke-linecap="round" stroke-linejoin="round"><path d="M2738.6 1811.4V2321.4M2660.6 2321.4H2816.6" stroke="#000" stroke-width="96.2"/><path d="M2738.6 1811.4V2321.4M2660.6 2321.4H2816.6" stroke="#fff" stroke-width="94.2"/><path d="M2738.6 1811.4V2321.4M2660.6 2321.4H2816.6" stroke="#000" stroke-width="69.6"/><path d="M2738.6 1811.4V2321.4M2660.6 2321.4H2816.6" stroke="#fff" stroke-width="67.6"/><path d="M2738.6 1811.4V2321.4M2660.6 2321.4H2816.6" stroke="#000" stroke-width="43"/><path d="M2738.6 1811.4V2321.4M2660.6 2321.4H2816.6" stroke="#fff" stroke-width="41"/></g><g fill="none" stroke-linecap="round" stroke-linejoin="round"><path d="M3205.9 1811.4V2014Q3205.9 2022 3214 2022H3575.6" stroke="#000" stroke-width="96.2"/><path d="M3205.9 1811.4V2014Q3205.9 2022 3214 2022H3575.6" stroke="#fff" stroke-width="94.2"/><path d="M3205.9 1811.4V2014Q3205.9 2022 3214 2022H3575.6" stroke="#000" stroke-width="69.6"/><path d="M3205.9 1811.4V2014Q3205.9 2022 3214 2022H3575.6" stroke="#fff" stroke-width="67.6"/><path d="M3205.9 1811.4V2014Q3205.9 2022 3214 2022H3575.6" stroke="#000" stroke-width="43"/><path d="M3205.9 1811.4V2014Q3205.9 2022 3214 2022H3575.6" stroke="#fff" stroke-width="41"/></g><g stroke="#000" stroke-width="1"><rect x="2343.9" y="2435" width="441.3" height="169.4" rx="42" fill="#fff"/><rect x="3165.8" y="2266.3" width="394.7" height="161.7" rx="42" fill="#fff"/><rect x="2357.2" y="2448.3" width="414.7" height="142.8" rx="29" fill="#fff"/><rect x="3179.1" y="2279.6" width="368.1" height="135.1" rx="29" fill="#fff"/><rect x="2370.4" y="2461.5" width="388.3" height="116.4" rx="16" fill="#fff"/><rect x="3192.3" y="2292.8" width="341.7" height="108.7" rx="16" fill="#fff"/></g>
<path d="M1866 795L1866 786.6 1291.6 786.6 1291.6 909.5M1270 931L1291.6 909.5 3633.4 909.5M1866 879L1866 909M1270 1129L1542 1129M716.2 1522.1L763.6 1577.3 763.6 1700.6M828.5 1480L828.5 1532.6M828.5 1575.2L828.5 1700.6M765.6 1634.2L781.9 1634.2M812 1634.2L825.7 1634.2M700.4 1702.3L845.8 1702.3M872.1 1702.3L911 1702.3M937.3 1706.8L1115 1706.8M765.6 1703.8L765.6 1866M675.4 1745.9L738 1745.9M759.3 1745.9L763.1 1745.9M675.4 1825.2L728 1825.2M754.3 1825.2L763.1 1825.2M912.2 1710.6L912.2 1746.4M768.1 1825.9L784.4 1825.9M805.7 1825.9L890.9 1825.9M911 1825.9L929.8 1825.9M932.5 1708.6L932.5 1850M763.1 1865L832 1865M864.6 1865L931 1865 931 1850 1081.4 1850M1081.4 1710.6L1081.4 1818.4M1081.4 1840.9L1081.4 1868M558.8 1655.5L558.8 1887.1M924.4 2329L873.3 2421.5 1181.4 2584.3 1226.4 2486.7M1475.7 2572.8L1430.6 2689.5 1840.3 2805.7 1861.3 2685.5M1653.5 2530.2L1773.7 2530.2M1776.7 2482.6L1776.7 2657.9M1266.3 2400L1266.3 2475.1M1255 1185.8L1362.7 1185.8M1366.2 1135.8L1366.2 1155.8M1366.2 1195.9L1366.2 1215.9M1366.2 1251L1366.2 1378.7M1250 1248.5L1362.7 1248.5M1420.8 1134.8L1420.8 1233.4M1370.2 1236.9L1395.3 1236.9M1432.8 1236.9L1456.4 1236.9M1250 1408.2L1362.7 1408.2M1418.8 1408.2L1678.2 1408.2 1678.2 1413.7M1753.4 1413.7L1753.4 1408.2 2356.9 1408.2 2356.9 1436.3M1420.8 1413.7L1420.8 1512.9M1675.7 1436.3L1675.7 1512.9M1756.4 1436.3L1756.4 1512.9M1871.1 1411.2L1871.1 1512.9M2185.1 1436.3L2185.1 1512.9M2750.6 1408.2L3369.2 1408.2M1555 1408.7L1677.7 1408.7 1677.7 1414.7M1752.9 1414.7L1752.9 1408.7 2356.4 1408.7 2356.4 1435.7M1674.7 1435.7L1674.7 1553.5M1755.9 1435.7L1755.9 1553.5M1555 1543.9L1671.7 1543.9M1759.4 1543.9L1868.1 1543.9M1712.8 1596L1712.8 1711.2M1871.1 1411.7L1871.1 1861.5M2186.6 1448.3L2186.6 1535.4 1874.6 1535.4M1975.7 1538.4L1975.7 1879M1555 1713.7L1859.5 1713.7M1595.1 1716.2L1595.1 1756.3 1652.7 1756.3M1787.4 1716.2L1787.4 1861.5M1557.5 1716.2L1557.5 1861.5M1655.2 1757.3L1655.2 1861.5M1550 1863L1577.5 1863M1620.1 1863L1870.6 1863M1823 1747.8L1823 1819.9M1699.3 1867.5L1699.3 2023.3 1757.9 2023.3M1790.4 2023.3L1815.5 2023.3M1845.5 2023.3L1870.6 2023.3M1760.4 1960.2L1760.4 2021.8M1814 1960.2L1814 2021.8M1874.1 1861.5L1874.1 2105.9M1975.7 1879L1975.7 1914.1M1975.7 1941.6L1975.7 1964.2M1975.7 1994.2L1975.7 2105.9M2102.5 1793.9L2102.5 1705.2 2171.1 1705.2M2186.6 1723.7L2186.6 1914.1M2186.6 1939.1L2186.6 1949.1M2186.6 1979.2L2186.6 2004.2M2186.6 2039.3L2186.6 2091.9 2102.5 2091.9 2102.5 1811.4 2186.6 1811.4M2102.5 1945.1L2186.6 1945.1M2700 1408.2L3369.2 1408.2M3370.9 1410.7L3370.9 1707.2M3372.7 1706.2L3684.7 1706.2M3369.2 1709.7L3369.2 1810.9 3579 1810.9M3599.1 1810.9L3616.6 1810.9 3616.6 1850 3681.7 1850M3684.7 1709.7L3684.7 1862M2935.4 1917.1L3054.6 1917.1 3054.6 2105.9M2935.4 1984.2L2935.4 2021.8 3050.6 2021.8M2935.4 1914.1L2935.4 1944.1M2935.4 2025.3L2935.4 2105.9M3068.1 2021.8L3153.3 2021.8M3634.1 2021.8L3671.7 2021.8M1239 1293L1239 1861.5M1081.2 1711.2L1081.2 1818.9M1081.2 1844L1081.2 1861.5M1133.8 1864.5L1550 1864.5M1081.2 1867.5L1081.2 1919.1M1081.2 1966.7L1081.2 2105.9M1136.8 1867.5L1136.8 2105.9M1267 1867.5L1267 2105.9M1366.7 1293L1366.7 1375.6M1366.7 1398.2L1366.7 1503.4M1366.7 1523.4L1366.7 1545.9M1366.7 1566L1366.7 1716.2M1366.7 1736.3L1366.7 1792.4 1116.2 1792.4 1116.2 1733.8M1116.2 1711.2L1116.2 1716.2M1246.5 1408.2L1364.2 1408.2M1244 1530.9L1364.2 1530.9M1246.5 1707.2L1364.2 1707.2M1421.8 1425.7L1421.8 1408.2 1550 1408.2M1421.8 1445.8L1421.8 1563.5M1421.8 1583.5L1421.8 1716.2M1421.8 1736.3L1421.8 1861.5M1424.3 1556.5L1550 1556.5M1424.3 1707.2L1550 1707.2M1131.3 1293L1131.3 1340.6 1236.5 1340.6M558.3 1653.6L558.3 2105.9M700.5 2030.8L768.1 2030.8M765.6 2034.3L765.6 2105.9M1081.7 2106L1081.7 2406.5M1267 2106L1267 2464.1M878.3 2214.7L1023.6 2214.7M1066.2 2214.7L1085.2 2214.7M876.8 2214.7L843.3 2274.8M1136.8 2106L1136.8 2263.3 1241.5 2263.3M1140.3 2164.1L1264 2164.1M558.3 2106L558.3 2386.5M3550 784L3632.6 784 3632.6 909.7 3701.8 977.4 3701.8 1229.8M3550 1131.6L3700.3 1131.6M1292 909.7L1222.8 977.4 1222.8 1229.8M1291.6 1131.7L1224 1131.7M4251.8 1718.7L4251.8 2012.8 4336.9 2104.4M4208.2 1523.4L4159.1 1579.5 4159.1 1780.8 4251.8 1780.8M4056.4 1639.1L4045.4 1639.1 4045.4 1707.2 4156.6 1707.2M4078 1639.1L4156.6 1639.1M4000.3 1420.7L4000.3 1435.7M4000.3 1460.8L4000.3 1618.6M4000.3 1708.7L4000.3 1775.8 4114.5 1775.8 4114.5 2104.4M4113 2106L4113 2126 4175.6 2221.2 4260.3 2162.6 4274.3 2165.1 4344.4 2115M3811 2248.2L3954.8 2248.2M3937.7 2251.3L3937.7 2353.9M3684.7 2106L3684.7 2316.4M3684.7 2361.4L3684.7 2466.6M3790.4 2106L3790.4 2158.6M3790.4 2188.6L3790.4 2222.2M3790.4 2321.4L3790.4 2431.6M3688.2 2173.1L3744.3 2173.1M3688.2 2321.4L3787.9 2321.4M3792.9 2248.2L3850 2248.2M2935.9 2106L2935.9 2321.4M3053.6 2106L3053.6 2306.3M2939.4 2164.1L3050.6 2164.1M1871.1 2106L1871.1 2168.6 1978.2 2168.6M1975.7 2106L1975.7 2326.4M1871.1 2173.6L1871.1 2306.3M1874.6 2324.4L1975.7 2324.4M1975.7 2371.5L1975.7 2481.7 1870.6 2481.7 1870.6 2333.9M1975.7 2326.4L1975.7 2331.4M1653.7 2530.7L1773.9 2530.7M2102.5 2714.6L2102.5 2321.4 2171.1 2321.4M2186.6 2341.4L2186.6 2371.5M2186.6 2416.5L2186.6 2649.4M2186.6 2674.5L2186.6 2707M2105 2480.7L2186.6 2480.7M3056.2 909.5L3056.2 786 3552 786" stroke-width="5"/>
<path d="M1866 795L1866 786.6 1291.6 786.6 1291.6 909.5M1270 931L1291.6 909.5 3633.4 909.5M1866 879L1866 909M1270 1129L1542 1129M716.2 1522.1L763.6 1577.3 763.6 1700.6M828.5 1480L828.5 1532.6M828.5 1575.2L828.5 1700.6M765.6 1634.2L781.9 1634.2M812 1634.2L825.7 1634.2M700.4 1702.3L845.8 1702.3M872.1 1702.3L911 1702.3M937.3 1706.8L1115 1706.8M765.6 1703.8L765.6 1866M675.4 1745.9L738 1745.9M759.3 1745.9L763.1 1745.9M675.4 1825.2L728 1825.2M754.3 1825.2L763.1 1825.2M912.2 1710.6L912.2 1746.4M768.1 1825.9L784.4 1825.9M805.7 1825.9L890.9 1825.9M911 1825.9L929.8 1825.9M932.5 1708.6L932.5 1850M763.1 1865L832 1865M864.6 1865L931 1865 931 1850 1081.4 1850M1081.4 1710.6L1081.4 1818.4M1081.4 1840.9L1081.4 1868M558.8 1655.5L558.8 1887.1M924.4 2329L873.3 2421.5 1181.4 2584.3 1226.4 2486.7M1475.7 2572.8L1430.6 2689.5 1840.3 2805.7 1861.3 2685.5M1653.5 2530.2L1773.7 2530.2M1776.7 2482.6L1776.7 2657.9M1266.3 2400L1266.3 2475.1M1255 1185.8L1362.7 1185.8M1366.2 1135.8L1366.2 1155.8M1366.2 1195.9L1366.2 1215.9M1366.2 1251L1366.2 1378.7M1250 1248.5L1362.7 1248.5M1420.8 1134.8L1420.8 1233.4M1370.2 1236.9L1395.3 1236.9M1432.8 1236.9L1456.4 1236.9M1250 1408.2L1362.7 1408.2M1418.8 1408.2L1678.2 1408.2 1678.2 1413.7M1753.4 1413.7L1753.4 1408.2 2356.9 1408.2 2356.9 1436.3M1420.8 1413.7L1420.8 1512.9M1675.7 1436.3L1675.7 1512.9M1756.4 1436.3L1756.4 1512.9M1871.1 1411.2L1871.1 1512.9M2185.1 1436.3L2185.1 1512.9M2750.6 1408.2L3369.2 1408.2M1555 1408.7L1677.7 1408.7 1677.7 1414.7M1752.9 1414.7L1752.9 1408.7 2356.4 1408.7 2356.4 1435.7M1674.7 1435.7L1674.7 1553.5M1755.9 1435.7L1755.9 1553.5M1555 1543.9L1671.7 1543.9M1759.4 1543.9L1868.1 1543.9M1712.8 1596L1712.8 1711.2M1871.1 1411.7L1871.1 1861.5M2186.6 1448.3L2186.6 1535.4 1874.6 1535.4M1975.7 1538.4L1975.7 1879M1555 1713.7L1859.5 1713.7M1595.1 1716.2L1595.1 1756.3 1652.7 1756.3M1787.4 1716.2L1787.4 1861.5M1557.5 1716.2L1557.5 1861.5M1655.2 1757.3L1655.2 1861.5M1550 1863L1577.5 1863M1620.1 1863L1870.6 1863M1823 1747.8L1823 1819.9M1699.3 1867.5L1699.3 2023.3 1757.9 2023.3M1790.4 2023.3L1815.5 2023.3M1845.5 2023.3L1870.6 2023.3M1760.4 1960.2L1760.4 2021.8M1814 1960.2L1814 2021.8M1874.1 1861.5L1874.1 2105.9M1975.7 1879L1975.7 1914.1M1975.7 1941.6L1975.7 1964.2M1975.7 1994.2L1975.7 2105.9M2102.5 1793.9L2102.5 1705.2 2171.1 1705.2M2186.6 1723.7L2186.6 1914.1M2186.6 1939.1L2186.6 1949.1M2186.6 1979.2L2186.6 2004.2M2186.6 2039.3L2186.6 2091.9 2102.5 2091.9 2102.5 1811.4 2186.6 1811.4M2102.5 1945.1L2186.6 1945.1M2700 1408.2L3369.2 1408.2M3370.9 1410.7L3370.9 1707.2M3372.7 1706.2L3684.7 1706.2M3369.2 1709.7L3369.2 1810.9 3579 1810.9M3599.1 1810.9L3616.6 1810.9 3616.6 1850 3681.7 1850M3684.7 1709.7L3684.7 1862M2935.4 1917.1L3054.6 1917.1 3054.6 2105.9M2935.4 1984.2L2935.4 2021.8 3050.6 2021.8M2935.4 1914.1L2935.4 1944.1M2935.4 2025.3L2935.4 2105.9M3068.1 2021.8L3153.3 2021.8M3634.1 2021.8L3671.7 2021.8M1239 1293L1239 1861.5M1081.2 1711.2L1081.2 1818.9M1081.2 1844L1081.2 1861.5M1133.8 1864.5L1550 1864.5M1081.2 1867.5L1081.2 1919.1M1081.2 1966.7L1081.2 2105.9M1136.8 1867.5L1136.8 2105.9M1267 1867.5L1267 2105.9M1366.7 1293L1366.7 1375.6M1366.7 1398.2L1366.7 1503.4M1366.7 1523.4L1366.7 1545.9M1366.7 1566L1366.7 1716.2M1366.7 1736.3L1366.7 1792.4 1116.2 1792.4 1116.2 1733.8M1116.2 1711.2L1116.2 1716.2M1246.5 1408.2L1364.2 1408.2M1244 1530.9L1364.2 1530.9M1246.5 1707.2L1364.2 1707.2M1421.8 1425.7L1421.8 1408.2 1550 1408.2M1421.8 1445.8L1421.8 1563.5M1421.8 1583.5L1421.8 1716.2M1421.8 1736.3L1421.8 1861.5M1424.3 1556.5L1550 1556.5M1424.3 1707.2L1550 1707.2M1131.3 1293L1131.3 1340.6 1236.5 1340.6M558.3 1653.6L558.3 2105.9M700.5 2030.8L768.1 2030.8M765.6 2034.3L765.6 2105.9M1081.7 2106L1081.7 2406.5M1267 2106L1267 2464.1M878.3 2214.7L1023.6 2214.7M1066.2 2214.7L1085.2 2214.7M876.8 2214.7L843.3 2274.8M1136.8 2106L1136.8 2263.3 1241.5 2263.3M1140.3 2164.1L1264 2164.1M558.3 2106L558.3 2386.5M3550 784L3632.6 784 3632.6 909.7 3701.8 977.4 3701.8 1229.8M3550 1131.6L3700.3 1131.6M1292 909.7L1222.8 977.4 1222.8 1229.8M1291.6 1131.7L1224 1131.7M4251.8 1718.7L4251.8 2012.8 4336.9 2104.4M4208.2 1523.4L4159.1 1579.5 4159.1 1780.8 4251.8 1780.8M4056.4 1639.1L4045.4 1639.1 4045.4 1707.2 4156.6 1707.2M4078 1639.1L4156.6 1639.1M4000.3 1420.7L4000.3 1435.7M4000.3 1460.8L4000.3 1618.6M4000.3 1708.7L4000.3 1775.8 4114.5 1775.8 4114.5 2104.4M4113 2106L4113 2126 4175.6 2221.2 4260.3 2162.6 4274.3 2165.1 4344.4 2115M3811 2248.2L3954.8 2248.2M3937.7 2251.3L3937.7 2353.9M3684.7 2106L3684.7 2316.4M3684.7 2361.4L3684.7 2466.6M3790.4 2106L3790.4 2158.6M3790.4 2188.6L3790.4 2222.2M3790.4 2321.4L3790.4 2431.6M3688.2 2173.1L3744.3 2173.1M3688.2 2321.4L3787.9 2321.4M3792.9 2248.2L3850 2248.2M2935.9 2106L2935.9 2321.4M3053.6 2106L3053.6 2306.3M2939.4 2164.1L3050.6 2164.1M1871.1 2106L1871.1 2168.6 1978.2 2168.6M1975.7 2106L1975.7 2326.4M1871.1 2173.6L1871.1 2306.3M1874.6 2324.4L1975.7 2324.4M1975.7 2371.5L1975.7 2481.7 1870.6 2481.7 1870.6 2333.9M1975.7 2326.4L1975.7 2331.4M1653.7 2530.7L1773.9 2530.7M2102.5 2714.6L2102.5 2321.4 2171.1 2321.4M2186.6 2341.4L2186.6 2371.5M2186.6 2416.5L2186.6 2649.4M2186.6 2674.5L2186.6 2707M2105 2480.7L2186.6 2480.7M3056.2 909.5L3056.2 786 3552 786" stroke="#fff" stroke-width="3"/>
<path d="M546.4 1654L546.4 797 546.4 797 547.1 782.5 549.2 768.1 552.8 754 557.7 740.4 563.9 727.2 571.3 714.8 580 703.1 589.7 692.3 600.5 682.6 612.2 673.9 624.6 666.5 637.8 660.3 651.4 655.4 665.5 651.8 679.9 649.7 694.4 649 1289.5 649.6M553.9 900L553.9 797 553.9 797 554.6 783.2 556.6 769.6 559.9 756.2 564.6 743.2 570.5 730.8 577.6 718.9 585.8 707.9 595.1 697.7 605.3 688.4 616.3 680.2 628.2 673.1 640.6 667.2 653.6 662.5 667 659.2 680.6 657.2 694.4 656.5 1289.5 656.5M548 893L548 893 548.7 878.3 550.9 863.7 554.5 849.5 559.4 835.6 565.7 822.3 573.3 809.7 582 797.8 591.9 786.9 602.8 777 614.7 768.3 627.3 760.7 640.6 754.4 654.5 749.5 668.7 745.9 683.3 743.7 698 743 1289.5 742M552.5 1654L552.5 893 552.5 893 553.2 878.7 555.3 864.6 558.8 850.8 563.6 837.3 569.7 824.4 577 812.2 585.5 800.7 595.1 790.1 605.7 780.5 617.2 772 629.4 764.7 642.3 758.6 655.8 753.8 669.6 750.3 683.7 748.2 698 747.5 1284.5 747 1284.5 782.7 1289.6 782.7M621.7 782.7L700 782.7 719 782.7 726.8 783.3 734.5 785.1 741.7 788.1 748.4 792.2 754.4 797.3 759.5 803.3 763.6 810 766.6 817.2 768.4 824.9 769 832.7 769 1426M814.6 1395L814.6 832.7 814.6 832.7 815.2 824.9 817 817.2 820 810 824.1 803.3 829.2 797.3 835.2 792.2 841.9 788.1 849.1 785.1 856.8 783.3 864.6 782.7 1187.5 782.7M1187.5 768.4L1226.8 768.4 1226.8 847.6 1187.5 847.6ZM489 546L489 1643.6M473 546L726 546M621.7 523L621.7 661M621.7 661L634 665 608 670 621.7 675M621.7 675L621.7 810M621.7 550.6L3939.7 550.6M1289.6 523L1289.6 645.4M1289.6 645.4L1317 655.4 1262 665 1289.6 674.3 1289.6 783M3939.7 523L3939.7 663M3939.7 663L3950 661 3928 668 3939.7 672M3939.7 672L3939.7 810.6M3731 782L3939.7 782M3731 782L3731 1204 3705 1230M1951 550.6L1957.3 597.5 1995.3 597.5 2001.6 550.6M1957.3 550.6L1957.3 597.5M1995.3 550.6L1995.3 597.5M1976.3 560L1976.3 597.5M2229.2 550.6L2235.5 597.5 2273.5 597.5 2279.8 550.6M2235.5 550.6L2235.5 597.5M2273.5 550.6L2273.5 597.5M2254.5 560L2254.5 597.5M2645.1 550.6L2651.4 597.5 2689.4 597.5 2695.7 550.6M2651.4 550.6L2651.4 597.5M2689.4 550.6L2689.4 597.5M2670.4 560L2670.4 597.5M2922.7 550.6L2929 597.5 2967 597.5 2973.3 550.6M2929 550.6L2929 597.5M2967 550.6L2967 597.5M2948 560L2948 597.5M1556.5 1066L1556.5 1067.8 1558.3 1067.8 1558.3 1050.8M1487 800L1866 800 1866 879 1487 879ZM1595.6 800L1595.6 793.7 1826 793.7 1826 800M1595.6 879L1595.6 886.3 1826 886.3 1826 879M1520.5 803.7L1837 803.7 1837 811 1520.5 811ZM1520.5 832L1837 832 1837 848.5 1520.5 848.5ZM1520.5 869.5L1837 869.5 1837 876.3 1520.5 876.3ZM1528 811V832M1528 848.5V869.5M1535.8 811V832M1535.8 848.5V869.5M1543.6 811V832M1543.6 848.5V869.5M1551.4 811V832M1551.4 848.5V869.5M1559.2 811V832M1559.2 848.5V869.5M1567 811V832M1567 848.5V869.5M1574.8 811V832M1574.8 848.5V869.5M1582.6 811V832M1582.6 848.5V869.5M1590.4 811V832M1590.4 848.5V869.5M1598.2 811V832M1598.2 848.5V869.5M1606 811V832M1606 848.5V869.5M1613.8 811V832M1613.8 848.5V869.5M1621.6 811V832M1621.6 848.5V869.5M1629.4 811V832M1629.4 848.5V869.5M1637.2 811V832M1637.2 848.5V869.5M1645 811V832M1645 848.5V869.5M1652.8 811V832M1652.8 848.5V869.5M1660.6 811V832M1660.6 848.5V869.5M1668.4 811V832M1668.4 848.5V869.5M1676.2 811V832M1676.2 848.5V869.5M1684 811V832M1684 848.5V869.5M1691.8 811V832M1691.8 848.5V869.5M1699.6 811V832M1699.6 848.5V869.5M1707.4 811V832M1707.4 848.5V869.5M1715.2 811V832M1715.2 848.5V869.5M1723 811V832M1723 848.5V869.5M1730.8 811V832M1730.8 848.5V869.5M1738.6 811V832M1738.6 848.5V869.5M1746.4 811V832M1746.4 848.5V869.5M1754.2 811V832M1754.2 848.5V869.5M1762 811V832M1762 848.5V869.5M1769.8 811V832M1769.8 848.5V869.5M1777.6 811V832M1777.6 848.5V869.5M1785.4 811V832M1785.4 848.5V869.5M1793.2 811V832M1793.2 848.5V869.5M1801 811V832M1801 848.5V869.5M1808.8 811V832M1808.8 848.5V869.5M1816.6 811V832M1816.6 848.5V869.5M1824.4 811V832M1824.4 848.5V869.5M2329.7 878L2329.7 942M2332.3 878L2332.3 942M2395.3 878L2395.3 942M2397.9 878L2397.9 942M2460.9 878L2460.9 942M2463.5 878L2463.5 942M2526.5 878L2526.5 942M2529.1 878L2529.1 942M2592.1 878L2592.1 942M2594.7 878L2594.7 942M2265.5 878L2265.5 942M2267.3 878L2267.3 942M2657.3 878L2657.3 942M2659.1 878L2659.1 942M475 1548.5L620.4 1425.7 830.8 1293 936 1226.3 1166.4 1116 1550.5 965.5 1871 887.8 2096.5 851.8 2204.5 861.3 2225.8 982.3 2475.5 988.3 2685.5 986.5 2750.6 853.8 2860.8 851.8 3053.6 879.3 3196.4 915.4 3550 1020.3 3870.6 1146 4005.8 1216 4124 1293 4399.6 1468.3 4637.5 1666 4825.3 1857.5 4592.4 2089.4 4419.6 2231 4034 2486.7 3850 2571.8 3671.7 2659.5 3463.8 2734.6 3286 2787.2 3030.6 2842.3 2867.8 2866.4 2755 2866.4 2632 2832M2326.4 2835L2206 2870 2096 2870 1550 2755 1126 2592 705.5 2356.5 475 2183.6M1938.9 879L1938.9 905M1223.5 1231.9L1207.4 1239.1 1191.4 1246.4 1175.3 1253.8 1159.2 1261.4 1143.2 1269 1127.1 1276.8 1111.1 1284.7 1095 1292.6 1078.9 1300.8 1062.9 1309 1046.8 1317.4 1030.8 1325.8 1014.7 1334.4 998.6 1343.2 982.6 1352 966.5 1361 950.4 1370.1 934.4 1379.3 918.3 1388.7 902.2 1398.2 886.2 1407.8 870.1 1417.6 854.1 1427.5 838 1437.5 821.9 1447.7 805.9 1458 789.8 1468.5 773.8 1479.1 757.7 1489.8 741.6 1500.7 725.6 1511.8 709.5 1523 693.4 1534.3 677.4 1545.8 661.3 1557.5 645.2 1569.3 629.2 1581.3 613.1 1593.5 597.1 1605.8 581 1618.3M1223.5 1236.8L1207.5 1244 1191.5 1251.3 1175.5 1258.7 1159.5 1266.2 1143.6 1273.8 1127.6 1281.6 1111.6 1289.4 1095.6 1297.4 1079.6 1305.5 1063.6 1313.7 1047.6 1322 1031.7 1330.4 1015.7 1339 999.7 1347.7 983.7 1356.5 967.7 1365.5 951.7 1374.5 935.7 1383.7 919.7 1393.1 903.8 1402.5 887.8 1412.1 871.8 1421.8 855.8 1431.7 839.8 1441.7 823.8 1451.8 807.8 1462.1 791.8 1472.5 775.9 1483.1 759.9 1493.8 743.9 1504.6 727.9 1515.6 711.9 1526.8 695.9 1538.1 679.9 1549.5 663.9 1561.2 648 1572.9 632 1584.9 616 1597 600 1609.3 584 1621.7M578.9 1617.1L670.3 1716.9 670.3 1887.1M583.1 1617.1L672.8 1715.1 672.8 1887.1M587.6 1617.1L664.6 1726.9 664.6 1822.1M610.2 1645.4L636.5 1675.5M608.2 1647.2L634.5 1677.3M663.4 1593L683.3 1621.3M669.6 1588.7L689.5 1617M675.8 1584.4L695.6 1612.7M681.9 1580L701.8 1608.4M688.1 1575.7L707.9 1604.1M694.2 1571.4L714.1 1599.7M700.4 1567.1L720.3 1595.4M706.6 1562.8L726.4 1591.1M650.3 1646.1L675.8 1622.7M655.4 1651.6L680.9 1628.3M660.5 1657.2L686 1633.8M665.5 1662.7L691.1 1639.4M670.6 1668.2L696.1 1644.9M675.7 1673.8L701.2 1650.4M680.8 1679.3L706.3 1656M720.5 1616.6L761.8 1616.6M720.5 1623.4L761.8 1623.4M720.5 1629.9L761.8 1629.9M720.5 1636.7L761.8 1636.7M720.5 1642.9L761.8 1642.9M720.5 1649.2L761.8 1649.2M720.5 1655.5L761.8 1655.5M706.7 1680.5L743 1680.5 743 1655.5M657.8 1620.4L706.7 1680.5M743.8 1595.3L743.8 1656.7M828.5 1532.6L849.8 1532.6 849.5 1536 848.8 1539.2 847.5 1542.3 845.7 1545.2 843.6 1547.7 841 1549.9 838.2 1551.6 835.1 1552.9 831.8 1553.7 828.5 1553.9M828.5 1575.2L828.5 1553.9 831.8 1554.2 835.1 1555 838.2 1556.3 841 1558 843.6 1560.2 845.7 1562.7 847.5 1565.6 848.8 1568.7 849.5 1571.9 849.8 1575.2M768.6 1640.4L825.7 1640.4 825.7 1696.8 768.6 1696.8ZM772.6 1645.4L821.2 1645.4 821.2 1681.8 772.6 1681.8ZM772.6 1645.4L821.2 1681.8M821.2 1645.4L772.6 1681.8M782.6 1687.5L811.5 1687.5 811.5 1691.8 782.6 1691.8ZM845.8 1700.6L872.1 1700.6M934.8 1853L982.4 1853 982.4 1868 934.8 1868ZM934.8 1853L982.4 1868M982.4 1853L934.8 1868M983.7 1853L1031.3 1853 1031.3 1868 983.7 1868ZM983.7 1853L1031.3 1868M1031.3 1853L983.7 1868M1031.3 1853L1078.9 1853 1078.9 1868 1031.3 1868ZM1031.3 1853L1078.9 1868M1078.9 1853L1031.3 1868M759.3 1747.7L759.3 1769 756 1768.7 752.7 1768 749.6 1766.7 746.8 1764.9 744.3 1762.8 742.1 1760.2 740.3 1757.4 739.1 1754.3 738.3 1751 738 1747.7M728 1823.4L728 1799.6 731.7 1799.9 735.3 1800.7 738.8 1802.2 742 1804.1 744.8 1806.6 747.3 1809.4 749.2 1812.6 750.6 1816 751.5 1819.7 751.8 1823.4M828.3 1710.6L828.3 1730.7 825.1 1730.4 822.1 1729.7 819.1 1728.5 816.5 1726.8 814.1 1724.8 812 1722.4 810.4 1719.7 809.2 1716.8 808.4 1713.7 808.2 1710.6M785.6 1824.6L785.6 1805.9 788.6 1806.1 791.5 1806.8 794.2 1807.9 796.7 1809.4 798.9 1811.4 800.8 1813.6 802.4 1816.1 803.5 1818.8 804.2 1821.7 804.4 1824.6M911 1824.6L891.4 1824.6 891.7 1821.6 892.4 1818.6 893.5 1815.8 895.2 1813.2 897.1 1810.8 899.5 1808.8 902.1 1807.2 904.9 1806.1 907.9 1805.3 911 1805.1M1083.9 1840.9L1065.1 1840.9 1065.4 1838 1066 1835.1 1067.2 1832.4 1068.7 1829.9 1070.6 1827.6 1072.9 1825.7 1075.4 1824.2 1078.1 1823.1 1081 1822.4 1083.9 1822.1M750 1557.7L740.6 1531.8 744.3 1530.7 748.1 1530.2 752 1530.2 755.8 1530.7 759.5 1531.8 763 1533.4 766.3 1535.4 769.2 1537.9 771.8 1540.7 773.9 1543.9M806.9 1777L889.7 1777M806.9 1800.8L889.7 1800.8M806.9 1824.6L889.7 1824.6M806.9 1777L806.9 1781.5 819.5 1788.3 806.9 1795.8 806.9 1800.8M806.9 1800.8L806.9 1805.3 819.5 1812.1 806.9 1819.6 806.9 1824.6M889.7 1777L889.7 1781.5 877.1 1788.3 889.7 1795.8 889.7 1800.8M889.7 1800.8L889.7 1805.3 877.1 1812.1 889.7 1819.6 889.7 1824.6M834.5 1761.2L846.5 1761.2 846.5 1775.3 834.5 1775.3ZM834.5 1761.2L846.5 1775.3M846.5 1761.2L834.5 1775.3M850.8 1761.2L862.8 1761.2 862.8 1775.3 850.8 1775.3ZM850.8 1761.2L862.8 1775.3M862.8 1761.2L850.8 1775.3M768.6 1837.9L783.1 1837.9 783.1 1861 768.6 1861ZM913.5 1837.9L928.5 1837.9 928.5 1861 913.5 1861ZM540 1654.2L556.3 1654.2M561.3 1680.5L620.2 1680.5 593.9 1644.2M561.3 1686.8L632.7 1686.8M561.3 1822.1L619 1822.1 619 1843.9M561.3 1828.4L619 1828.4M657.8 1843.9L657.8 1822.1 664.6 1822.1M657.8 1828.4L670.3 1828.4M619 1843.9L619 1824.4 622 1824.6 625 1825.4 627.8 1826.5 630.4 1828.1 632.8 1830.1 634.8 1832.5 636.4 1835.1 637.6 1837.9 638.3 1840.9 638.5 1843.9M657.8 1843.9L638.3 1843.9 638.5 1840.9 639.2 1837.9 640.4 1835.1 642 1832.5 644 1830.1 646.3 1828.1 648.9 1826.5 651.8 1825.4 654.7 1824.6 657.8 1824.4M561.3 1655.5L582.6 1655.5 593.9 1644.2M675.4 1829.7L675.4 1868.5 696.7 1868.5 696.7 1829.7M705.4 1810.9L705.4 1830.9M697.9 1825.2L705.4 1810.9M1840 2807.3L1881.4 2815.6 1922.8 2823.3 1964.2 2830.4 2005.6 2836.9 2047 2842.8 2088.4 2848.2 2129.8 2853 2171.2 2857.2 2212.6 2860.8 2254 2863.9 2295.4 2866.5 2336.8 2868.4 2378.2 2869.8 2419.6 2870.7 2461 2871 2502.4 2870.7 2543.8 2869.9 2585.2 2868.5 2626.6 2866.6 2668 2864.1 2709.4 2861 2750.8 2857.4 2792.2 2853.2 2833.6 2848.5 2875 2843.2 2916.4 2837.3 2957.8 2830.8 2999.2 2823.7 3040.6 2816.1 3082 2807.9 3123.4 2799 3164.8 2789.6 3206.2 2779.6 3247.6 2769 3289 2757.7 3330.4 2745.8 3371.8 2733.3 3413.2 2720.2 3454.6 2706.4 3496 2691.9 3537.4 2676.8 3578.8 2661 3620.2 2644.5 3661.6 2627.3 3703 2609.4 3744.4 2590.8 3785.8 2571.4 3827.2 2551.2 3868.6 2530.3 3910 2508.6 3951.4 2486.1 3992.8 2462.8 4034.2 2438.5 4075.6 2413.5 4117 2387.5 4158.4 2360.5 4199.8 2332.6 4241.2 2303.8 4282.6 2273.9 4324 2242.9 4274.3 2166M1414.5 2483.6L1478.2 2483.6 1478.2 2555.3 1414.5 2555.3ZM1431.6 2494.2L1468.1 2494.2 1468.1 2535.2 1431.6 2535.2ZM1431.6 2494.2L1468.1 2535.2M1468.1 2494.2L1431.6 2535.2M1420.6 2547.8L1473.1 2547.8 1473.1 2567.8M1478.2 2483.6L1529.7 2483.6 1529.7 2532.7 1623.4 2532.7M1623.4 2527.7L1608.4 2527.7M2370.5 2490.7L2885.3 2490.7 2885.3 2321.4M2370.5 2506.7L2901.4 2506.7 2901.4 2321.4M2370.5 2523.2L2916.4 2523.2 2916.4 2321.4M2370.5 2537.8L2932 2537.8 2932 2321.4M3192.5 2322.4L3492 2322.4M3192.5 2338L3508 2338M3192.5 2353L3524 2353M3192.5 2369L3539 2369M3524 2067L3524 2353M3539 2067L3539 2369M1556.5 1135.8L1556.5 1401.2M1555 1271L1524 1271 1524.4 1266.1 1525.5 1261.4 1527.4 1256.9 1529.9 1252.7 1533.1 1249 1536.8 1245.9 1540.9 1243.3 1545.4 1241.5 1550.2 1240.3 1555 1239.9M1555 1332.1L1555 1363.2 1550.2 1362.8 1545.4 1361.6 1540.9 1359.8 1536.8 1357.2 1533.1 1354.1 1529.9 1350.4 1527.4 1346.2 1525.5 1341.7 1524.4 1337 1524 1332.1M1555 1333.1L1524 1333.1 1524.4 1328.2 1525.5 1323.5 1527.4 1319 1529.9 1314.8 1533.1 1311.1 1536.8 1308 1540.9 1305.4 1545.4 1303.6 1550.2 1302.4 1555 1302M1555 1393.7L1555 1424.8 1550.2 1424.4 1545.4 1423.2 1540.9 1421.4 1536.8 1418.8 1533.1 1415.7 1529.9 1412 1527.4 1407.8 1525.5 1403.3 1524.4 1398.6 1524 1393.7M1255 1135.8L1285.1 1135.8 1285.1 1180.8 1255 1180.8ZM1255 1163.3L1285.1 1163.3M1456.4 1234.9L1555 1234.9M1456.4 1239.9L1555 1239.9M1366.2 1135.8L1366.2 1155.8 1363.1 1155.5 1360 1154.8 1357.1 1153.6 1354.4 1152 1352 1149.9 1350 1147.5 1348.4 1144.9 1347.1 1141.9 1346.4 1138.9 1346.2 1135.8M1366.2 1215.9L1346.2 1215.9 1346.4 1212.8 1347.1 1209.7 1348.4 1206.8 1350 1204.1 1352 1201.7 1354.4 1199.7 1357.1 1198 1360 1196.8 1363.1 1196.1 1366.2 1195.9M1395.3 1236.9L1372.7 1236.9 1373 1233.4 1373.8 1230 1375.2 1226.7 1377 1223.7 1379.3 1221 1382 1218.7 1385 1216.9 1388.3 1215.5 1391.7 1214.7 1395.3 1214.4M1432.8 1236.9L1432.8 1214.4 1436.3 1214.7 1439.8 1215.5 1443.1 1216.9 1446.1 1218.7 1448.8 1221 1451.1 1223.7 1452.9 1226.7 1454.3 1230 1455.1 1233.4 1455.4 1236.9M1366.2 1378.7L1366.2 1398.7 1363.1 1398.5 1360 1397.7 1357.1 1396.5 1354.4 1394.9 1352 1392.8 1350 1390.5 1348.4 1387.8 1347.1 1384.9 1346.4 1381.8 1346.2 1378.7M2209.2 1396.2L2314.4 1396.2 2314.4 1405.2 2209.2 1405.2ZM1418.8 1436.3L1418.8 1415.2 1422.1 1415.5 1425.3 1416.3 1428.3 1417.5 1431.2 1419.3 1433.7 1421.4 1435.8 1423.9 1437.5 1426.7 1438.8 1429.8 1439.6 1433 1439.8 1436.3M1678.2 1436.3L1657.2 1436.3 1657.5 1433 1658.2 1429.8 1659.5 1426.7 1661.2 1423.9 1663.4 1421.4 1665.9 1419.3 1668.7 1417.5 1671.7 1416.3 1675 1415.5 1678.2 1415.2M1753.4 1436.3L1753.4 1415.2 1756.7 1415.5 1759.9 1416.3 1762.9 1417.5 1765.7 1419.3 1768.3 1421.4 1770.4 1423.9 1772.1 1426.7 1773.4 1429.8 1774.2 1433 1774.4 1436.3M2189.1 1451.3L2189.1 1472.3 2185.8 1472.1 2182.6 1471.3 2179.6 1470.1 2176.8 1468.3 2174.3 1466.2 2172.1 1463.7 2170.4 1460.9 2169.1 1457.8 2168.4 1454.6 2168.1 1451.3M2400 1436.3L2419 1436.3 2419 1405.2 2519.2 1405.2 2519.2 1436.3M2419 1411.2L2519.2 1411.2M2519.2 1405.2L2550.3 1405.2 2549.9 1410.1 2548.7 1414.8 2546.9 1419.3 2544.3 1423.5 2541.2 1427.2 2537.5 1430.3 2533.3 1432.9 2528.8 1434.8 2524.1 1435.9 2519.2 1436.3M2580.3 1405.2L2580.3 1436.3 2575.5 1435.9 2570.7 1434.8 2566.2 1432.9 2562.1 1430.3 2558.4 1427.2 2555.2 1423.5 2552.6 1419.3 2550.8 1414.8 2549.6 1410.1 2549.3 1405.2M2580.3 1436.3L2580.3 1405.2 2725.6 1405.2M2580.3 1411.2L2725.6 1411.2M2613.9 1396.2L2718.1 1396.2 2718.1 1405.2 2613.9 1405.2ZM3369.2 1408.2L3515.9 1408.2M2356.9 1405.2L2388 1405.2 2387.6 1410.1 2386.5 1414.8 2384.6 1419.3 2382 1423.5 2378.9 1427.2 2375.2 1430.3 2371 1432.9 2366.5 1434.8 2361.8 1435.9 2356.9 1436.3M2418.5 1405.2L2418.5 1436.3 2413.7 1435.9 2408.9 1434.8 2404.4 1432.9 2400.3 1430.3 2396.6 1427.2 2393.4 1423.5 2390.9 1419.3 2389 1414.8 2387.9 1410.1 2387.5 1405.2M2419 1435.7L2419 1405.7 2519.2 1405.7 2519.2 1435.7M2419 1411.7L2519.2 1411.7M2580.8 1435.7L2580.8 1405.7 2700 1405.7M2580.8 1411.7L2700 1411.7M2356.4 1405.7L2387.5 1405.7 2387.1 1410.6 2385.9 1415.3 2384.1 1419.8 2381.5 1423.9 2378.4 1427.7 2374.7 1430.8 2370.5 1433.4 2366 1435.2 2361.3 1436.4 2356.4 1436.8M2419 1405.7L2419 1436.8 2414.2 1436.4 2409.4 1435.2 2404.9 1433.4 2400.8 1430.8 2397.1 1427.7 2393.9 1423.9 2391.3 1419.8 2389.5 1415.3 2388.3 1410.6 2388 1405.7M2519.2 1405.7L2550.2 1405.7 2549.9 1410.6 2548.7 1415.3 2546.9 1419.8 2544.3 1423.9 2541.1 1427.7 2537.4 1430.8 2533.3 1433.4 2528.8 1435.2 2524 1436.4 2519.2 1436.8M2580.8 1405.7L2580.8 1436.8 2575.9 1436.4 2571.2 1435.2 2566.7 1433.4 2562.5 1430.8 2558.8 1427.7 2555.7 1423.9 2553.1 1419.8 2551.3 1415.3 2550.1 1410.6 2549.7 1405.7M2210.1 1396.7L2313.8 1396.7 2313.8 1405.7 2210.1 1405.7ZM2614.4 1396.7L2700 1396.7 2700 1405.7 2614.4 1405.7ZM1671.7 1553.5L1671.7 1596 1685.2 1596 1685.2 1588.5M1677.7 1553.5L1677.7 1590 1685.2 1590M1759.4 1553.5L1759.4 1596 1742.8 1596 1742.8 1588.5M1752.9 1553.5L1752.9 1590 1742.8 1590M1674.7 1414.7L1674.7 1434.7 1671.6 1434.5 1668.5 1433.8 1665.6 1432.6 1662.9 1430.9 1660.6 1428.9 1658.5 1426.5 1656.9 1423.8 1655.7 1420.9 1654.9 1417.8 1654.7 1414.7M1755.9 1414.7L1775.9 1414.7 1775.6 1417.8 1774.9 1420.9 1773.7 1423.8 1772.1 1426.5 1770 1428.9 1767.6 1430.9 1765 1432.6 1762 1433.8 1759 1434.5 1755.9 1434.7M1674.7 1553.5L1674.7 1571 1672 1570.8 1669.3 1570.1 1666.8 1569.1 1664.4 1567.6 1662.3 1565.8 1660.5 1563.8 1659.1 1561.4 1658 1558.9 1657.4 1556.2 1657.2 1553.5M1755.9 1553.5L1773.4 1553.5 1773.2 1556.2 1772.5 1558.9 1771.5 1561.4 1770 1563.8 1768.3 1565.8 1766.2 1567.6 1763.8 1569.1 1761.3 1570.1 1758.6 1570.8 1755.9 1571M1706.3 1596L1706.3 1615.1 1703.3 1614.8 1700.4 1614.1 1697.6 1613 1695.1 1611.4 1692.8 1609.5 1690.9 1607.2 1689.3 1604.7 1688.2 1601.9 1687.5 1599 1687.2 1596M1720.3 1596L1739.3 1596 1739.1 1599 1738.4 1601.9 1737.3 1604.7 1735.7 1607.2 1733.8 1609.5 1731.5 1611.4 1728.9 1613 1726.2 1614.1 1723.3 1614.8 1720.3 1615.1M2186.6 1427.2L2186.6 1447.3 2183.5 1447 2180.4 1446.3 2177.5 1445.1 2174.8 1443.4 2172.4 1441.4 2170.4 1439 2168.8 1436.3 2167.6 1433.4 2166.8 1430.4 2166.6 1427.2M1555 1638.6L1878.1 1638.6M1874.6 1539.4L1914.1 1539.4M1914.1 1539.4L1914.1 1543.4 1900.6 1551.4 1914.1 1559.5 1914.1 1563M1874.6 1563.2L1914.1 1563.2M1914.1 1563.2L1914.1 1567.2 1900.6 1575.2 1914.1 1583.3 1914.1 1586.8M1874.6 1587L1914.1 1587M1914.1 1587L1914.1 1591 1900.6 1599 1914.1 1607 1914.1 1610.6M1874.6 1610.8L1914.1 1610.8M1914.1 1610.8L1914.1 1614.8 1900.6 1622.8 1914.1 1630.8 1914.1 1634.3M1874.6 1634.6L1914.1 1634.6M1914.1 1634.6L1914.1 1638.6 1900.6 1646.6 1914.1 1654.6 1914.1 1658.1M1874.6 1658.4L1914.1 1658.4M1914.1 1658.4L1914.1 1662.4 1900.6 1670.4 1914.1 1678.4 1914.1 1681.9M1874.6 1682.2L1914.1 1682.2M1914.1 1682.2L1914.1 1686.2 1900.6 1694.2 1914.1 1702.2 1914.1 1705.7M1874.6 1706L1914.1 1706M1555 1707.2L1870.6 1707.2M1598.6 1717.7L1642.7 1717.7 1642.7 1751.3 1598.6 1751.3ZM1647.7 1717.7L1691.7 1717.7 1691.7 1751.3 1647.7 1751.3ZM1695.3 1717.7L1739.3 1717.7 1739.3 1751.3 1695.3 1751.3ZM1741.8 1717.7L1785.9 1717.7 1785.9 1751.3 1741.8 1751.3ZM1790.4 1717.7L1855.5 1717.7 1855.5 1861.5 1790.4 1861.5ZM1657.7 1757.3L1783.9 1757.3 1783.9 1816.4 1657.7 1816.4ZM1657.7 1822.9L1783.9 1822.9 1783.9 1861.5 1657.7 1861.5ZM1665.2 1818.9L1665.2 1789.9 1669.7 1790.2 1674.2 1791.3 1678.4 1793 1682.3 1795.4 1685.7 1798.4 1688.7 1801.8 1691.1 1805.7 1692.8 1809.9 1693.9 1814.4 1694.3 1818.9M1577.5 1864L1577.5 1885 1574.3 1884.8 1571 1884 1568 1882.7 1565.2 1881 1562.7 1878.9 1560.5 1876.4 1558.8 1873.5 1557.5 1870.5 1556.8 1867.3 1556.5 1864M1620.1 1864L1641.2 1864 1640.9 1867.3 1640.1 1870.5 1638.9 1873.5 1637.1 1876.4 1635 1878.9 1632.5 1881 1629.7 1882.7 1626.6 1884 1623.4 1884.8 1620.1 1885M1791.9 1751.3L1854 1751.3M1791.9 1759.8L1854 1759.8M1791.9 1768.3L1854 1768.3M1791.9 1776.8L1854 1776.8M1791.9 1785.4L1854 1785.4M1791.9 1793.9L1854 1793.9M1791.9 1802.4L1854 1802.4M1791.9 1810.9L1854 1810.9M1791.9 1819.4L1854 1819.4M1805.4 1821.4L1805.4 1734.8 1839.5 1734.8 1839.5 1821.4M1699.3 1959.2L1870.6 1959.2M1748.8 1887.5L1825.5 1887.5M1748.8 1912.6L1825.5 1912.6M1748.8 1935.1L1825.5 1935.1M1748.8 1959.2L1825.5 1959.2M1748.8 1887.5L1748.8 1891.5 1762.9 1899.1 1748.8 1906.6 1748.8 1911.1M1748.8 1912.6L1748.8 1916.6 1762.9 1924.1 1748.8 1931.6 1748.8 1936.1M1748.8 1935.1L1748.8 1939.1 1762.9 1946.6 1748.8 1954.1 1748.8 1958.7M1825.5 1887.5L1825.5 1891.5 1811.5 1899.1 1825.5 1906.6 1825.5 1911.1M1825.5 1912.6L1825.5 1916.6 1811.5 1924.1 1825.5 1931.6 1825.5 1936.1M1825.5 1935.1L1825.5 1939.1 1811.5 1946.6 1825.5 1954.1 1825.5 1958.7M1772.9 1869L1784.4 1869 1784.4 1882.5 1772.9 1882.5ZM1772.9 1869L1784.4 1882.5M1784.4 1869L1772.9 1882.5M1789.4 1869L1800.9 1869 1800.9 1882.5 1789.4 1882.5ZM1789.4 1869L1800.9 1882.5M1800.9 1869L1789.4 1882.5M1757.9 2023.3L1730.3 2023.3 1730.7 2019 1731.7 2014.8 1733.3 2010.8 1735.6 2007.1 1738.4 2003.8 1741.7 2001 1745.4 1998.7 1749.3 1997.1 1753.6 1996.1 1757.9 1995.7M1764.4 2023.3L1764.4 1995.7 1768.7 1996.1 1772.9 1997.1 1776.9 1998.7 1780.6 2001 1783.9 2003.8 1786.7 2007.1 1788.9 2010.8 1790.6 2014.8 1791.6 2019 1791.9 2023.3M1845.5 2023.3L1818 2023.3 1818.3 2019 1819.3 2014.8 1821 2010.8 1823.2 2007.1 1826 2003.8 1829.3 2001 1833 1998.7 1837 1997.1 1841.2 1996.1 1845.5 1995.7M1878.1 1861.5L1885.6 1851.5 1973.2 1851.5M1880.6 1718.7L1880.6 1846.5M1886.6 1733.8L1886.6 1838.9M1875.6 1936.6L1910.6 1936.6M1975.7 1881.5L1975.7 1906.6 1971.8 1906.3 1968 1905.3 1964.4 1903.8 1961 1901.8 1958 1899.2 1955.5 1896.2 1953.4 1892.9 1951.9 1889.3 1951 1885.4 1950.7 1881.5M1975.7 1941.6L1950.7 1941.6 1951 1937.7 1951.9 1933.9 1953.4 1930.3 1955.5 1926.9 1958 1923.9 1961 1921.4 1964.4 1919.3 1968 1917.8 1971.8 1916.9 1975.7 1916.6M1975.7 1966.7L1975.7 1991.7 1971.8 1991.4 1968 1990.5 1964.4 1989 1961 1986.9 1958 1984.4 1955.5 1981.4 1953.4 1978 1951.9 1974.4 1951 1970.6 1950.7 1966.7M1875.6 2021.8L1973.2 2021.8M1888.1 1717.7L1903.1 1717.7 1903.1 1730.3 1888.1 1730.3ZM1888.1 1717.7L1903.1 1730.3M1903.1 1717.7L1888.1 1730.3M2186.1 1707.2L2700 1707.2M2102.5 1793.9L2102.5 1808.9M2102.5 1806.4L2102.5 1781.3 2106.4 1781.7 2110.2 1782.6 2113.8 1784.1 2117.2 1786.1 2120.2 1788.7 2122.7 1791.7 2124.8 1795 2126.3 1798.7 2127.2 1802.5 2127.5 1806.4M2106 1817.9L2145 1817.9M2106 1941.6L2145 1941.6M2106 1859.2L2145 1859.2M2145 1817.9L2145 1830.3 2131 1838.5 2145 1846.8 2145 1859.2M2106 1900.4L2145 1900.4M2145 1859.2L2145 1871.5 2131 1879.8 2145 1888 2145 1900.4M2106 1941.6L2145 1941.6M2145 1900.4L2145 1912.8 2131 1921 2145 1929.3 2145 1941.6M2106 1950.1L2145 1950.1M2106 2074.4L2145 2074.4M2106 1991.5L2145 1991.5M2145 1950.1L2145 1962.6 2131 1970.8 2145 1979.1 2145 1991.5M2106 2033L2145 2033M2145 1991.5L2145 2004 2131 2012.3 2145 2020.5 2145 2033M2106 2074.4L2145 2074.4M2145 2033L2145 2045.4 2131 2053.7 2145 2061.9 2145 2074.4M2186.6 1939.1L2161.6 1939.1 2161.9 1935.2 2162.8 1931.4 2164.3 1927.8 2166.3 1924.4 2168.9 1921.4 2171.9 1918.9 2175.2 1916.8 2178.9 1915.3 2182.7 1914.4 2186.6 1914.1M2186.6 1979.2L2186.6 2004.2 2182.7 2003.9 2178.9 2003 2175.2 2001.5 2171.9 1999.5 2168.9 1996.9 2166.3 1993.9 2164.3 1990.6 2162.8 1986.9 2161.9 1983.1 2161.6 1979.2M2101 2094.4L2101 2105.9M3369.2 1408.2L3515.4 1408.2M2738.6 1636.1L2738.6 1707.2M3053.6 1293L3053.6 2105.9M3684.7 1618.6L3684.7 1707.2M2935.4 1707.2L2935.4 1914.1M2700 1707.2L3850 1707.2M3599.1 1810.9L3599.1 1830.9 3595.9 1830.7 3592.9 1830 3590 1828.8 3587.3 1827.1 3584.9 1825.1 3582.9 1822.7 3581.2 1820 3580 1817.1 3579.3 1814 3579 1810.9M2885.3 2105.9L2885.3 1924.1 2901.4 1924.1 2901.4 2105.9M2901.4 1970.2L2932.9 1970.2M2935.4 1944.1L2935.4 1964.2 2932.3 1963.9 2929.2 1963.2 2926.3 1962 2923.6 1960.3 2921.2 1958.3 2919.2 1955.9 2917.6 1953.2 2916.4 1950.3 2915.6 1947.3 2915.4 1944.1M2935.4 1984.2L2915.4 1984.2 2915.6 1981.1 2916.4 1978 2917.6 1975.1 2919.2 1972.4 2921.2 1970 2923.6 1968 2926.3 1966.4 2929.2 1965.1 2932.3 1964.4 2935.4 1964.2M3193.4 2019.3L3356.1 2019.3M3193.4 2024.3L3356.1 2024.3M2700 1396.7L2719 1396.7 2719 1405.7M1083.7 1864.5L1133.8 1864.5M1292.6 1867.5L1292.6 2021.8 1085.2 2021.8M1085.2 1923.1L1085.2 1902.1 1088.5 1902.3 1091.7 1903.1 1094.7 1904.4 1097.6 1906.1 1100.1 1908.2 1102.2 1910.7 1103.9 1913.5 1105.2 1916.6 1106 1919.8 1106.2 1923.1M1085.2 1966.7L1106.2 1966.7 1106 1970 1105.2 1973.2 1103.9 1976.2 1102.2 1979 1100.1 1981.5 1097.6 1983.7 1094.7 1985.4 1091.7 1986.7 1088.5 1987.4 1085.2 1987.7M1081.2 1818.9L1081.2 1836.4 1078.4 1836.2 1075.8 1835.6 1073.2 1834.5 1070.9 1833.1 1068.8 1831.3 1067 1829.2 1065.6 1826.9 1064.5 1824.3 1063.9 1821.7 1063.7 1818.9M1366.7 1375.6L1366.7 1394.7 1363.7 1394.4 1360.8 1393.7 1358 1392.6 1355.5 1391 1353.2 1389.1 1351.3 1386.8 1349.7 1384.3 1348.6 1381.5 1347.9 1378.6 1347.6 1375.6M1366.7 1503.4L1366.7 1522.4 1363.7 1522.2 1360.8 1521.5 1358 1520.3 1355.5 1518.8 1353.2 1516.8 1351.3 1514.6 1349.7 1512 1348.6 1509.2 1347.9 1506.3 1347.6 1503.4M1366.7 1566L1347.6 1566 1347.9 1563 1348.6 1560.1 1349.7 1557.3 1351.3 1554.8 1353.2 1552.5 1355.5 1550.6 1358 1549 1360.8 1547.9 1363.7 1547.2 1366.7 1546.9M1366.7 1716.2L1366.7 1735.3 1363.7 1735 1360.8 1734.3 1358 1733.2 1355.5 1731.6 1353.2 1729.7 1351.3 1727.4 1349.7 1724.9 1348.6 1722.1 1347.9 1719.2 1347.6 1716.2M1421.8 1425.7L1440.8 1425.7 1440.6 1428.7 1439.9 1431.6 1438.7 1434.4 1437.2 1436.9 1435.2 1439.2 1433 1441.1 1430.4 1442.7 1427.7 1443.8 1424.8 1444.5 1421.8 1444.8M1421.8 1583.5L1421.8 1564.5 1424.8 1564.7 1427.7 1565.4 1430.4 1566.5 1433 1568.1 1435.2 1570 1437.2 1572.3 1438.7 1574.9 1439.9 1577.6 1440.6 1580.5 1440.8 1583.5M1421.8 1716.2L1440.8 1716.2 1440.6 1719.2 1439.9 1722.1 1438.7 1724.9 1437.2 1727.4 1435.2 1729.7 1433 1731.6 1430.4 1733.2 1427.7 1734.3 1424.8 1735 1421.8 1735.3M1116.2 1716.2L1116.2 1735.3 1113.3 1735 1110.4 1734.3 1107.6 1733.2 1105.1 1731.6 1102.8 1729.7 1100.8 1727.4 1099.3 1724.9 1098.1 1722.1 1097.4 1719.2 1097.2 1716.2M1241.5 1313L1241.5 1294 1244.4 1294.2 1247.3 1294.9 1250.1 1296.1 1252.7 1297.6 1254.9 1299.6 1256.9 1301.8 1258.4 1304.4 1259.6 1307.2 1260.3 1310.1 1260.5 1313M1428.3 1911.6L1550 1911.6 1550 1949.1 1428.3 1949.1ZM1399.2 1954.1L1550 1954.1 1550 1996.7 1399.2 1996.7ZM1434.3 1911.6V1949.1M1443.8 1911.6V1949.1M1453.3 1911.6V1949.1M1462.8 1911.6V1949.1M1462.8 1965.7V1985.2M1472.4 1911.6V1949.1M1472.4 1965.7V1985.2M1481.9 1911.6V1949.1M1481.9 1965.7V1985.2M1491.4 1911.6V1949.1M1491.4 1965.7V1985.2M1500.9 1911.6V1949.1M1500.9 1965.7V1985.2M1510.4 1911.6V1949.1M1510.4 1965.7V1985.2M1519.9 1911.6V1949.1M1519.9 1965.7V1985.2M1529.5 1911.6V1949.1M1529.5 1965.7V1985.2M1539 1911.6V1949.1M1539 1965.7V1985.2M1548.5 1911.6V1949.1M1548.5 1965.7V1985.2M1399.2 1933.1L1550 1933.1M474.1 1653.6L555.3 1653.6M474.1 2004.2L555.3 2004.2M474.1 1966.7L520.2 1966.7M558.3 2020.3L640.4 2020.3 572.8 2105.9M558.3 2039.3L584.3 2039.3M561.3 2064.3L561.3 2041.8 564.8 2042.1 568.2 2042.9 571.5 2044.3 574.5 2046.1 577.2 2048.4 579.5 2051.1 581.4 2054.1 582.7 2057.4 583.5 2060.8 583.8 2064.3M673 2004.2L609.4 2089.4M665.5 2004.2L600.3 2089.4M765.6 2034.3L765.6 2056.8 762.1 2056.6 758.7 2055.7 755.4 2054.4 752.4 2052.5 749.7 2050.2 747.4 2047.5 745.6 2044.5 744.2 2041.3 743.4 2037.8 743.1 2034.3M765.6 2081.9L743.1 2081.9 743.4 2078.3 744.2 2074.9 745.6 2071.6 747.4 2068.6 749.7 2065.9 752.4 2063.6 755.4 2061.8 758.7 2060.4 762.1 2059.6 765.6 2059.3M713 2076.9L760.6 2076.9M713 2082.9L760.6 2082.9M713 2088.9L760.6 2088.9M713 2094.9L760.6 2094.9M713 2100.9L760.6 2100.9M558.3 1939.1L558.3 1958.2 555.3 1957.9 552.4 1957.2 549.6 1956.1 547.1 1954.5 544.8 1952.6 542.9 1950.3 541.3 1947.8 540.2 1945 539.5 1942.1 539.2 1939.1M558.3 1978.2L539.2 1978.2 539.5 1975.2 540.2 1972.3 541.3 1969.6 542.9 1967 544.8 1964.7 547.1 1962.8 549.6 1961.2 552.4 1960.1 555.3 1959.4 558.3 1959.2M693 1989.2L673 2014.3M1023.6 2214.7L1044.6 2214.7 1044.4 2218 1043.6 2221.2 1042.3 2224.2 1040.6 2227.1 1038.5 2229.6 1035.9 2231.7 1033.1 2233.4 1030.1 2234.7 1026.9 2235.5 1023.6 2235.7M1066.2 2214.7L1066.2 2235.7 1062.9 2235.5 1059.7 2234.7 1056.6 2233.4 1053.8 2231.7 1051.3 2229.6 1049.1 2227.1 1047.4 2224.2 1046.2 2221.2 1045.4 2218 1045.1 2214.7M1088.7 2214.7L1108.7 2214.7 1108.5 2217.8 1107.8 2220.9 1106.5 2223.8 1104.9 2226.5 1102.9 2228.9 1100.5 2230.9 1097.8 2232.5 1094.9 2233.7 1091.8 2234.5 1088.7 2234.7M1131.3 2214.7L1131.3 2234.7 1128.1 2234.5 1125.1 2233.7 1122.2 2232.5 1119.5 2230.9 1117.1 2228.9 1115.1 2226.5 1113.4 2223.8 1112.2 2220.9 1111.5 2217.8 1111.2 2214.7M1088.7 2212.2L1088.7 2233.7M1131.3 2212.2L1131.3 2233.7M1261.5 2266.3L1241.5 2266.3 1241.7 2263.1 1242.4 2260.1 1243.6 2257.2 1245.3 2254.5 1247.3 2252.1 1249.7 2250.1 1252.4 2248.4 1255.3 2247.2 1258.4 2246.5 1261.5 2246.2M767.1 2106L767.1 2143.6 815.7 2176.1 783.2 2251.3 720.6 2211.2 767.1 2143.6M780.7 2241.2L725.6 2206.2M815.7 2176.1L830.7 2186.1 825.7 2193.7M830.7 2186.1L875.8 2212.2M938.4 2153.6L1007.1 2153.6 1007.1 2167.1 938.4 2167.1ZM916.9 2160.1L938.4 2160.1 938.4 2170.1 916.9 2170.1ZM953.5 2106L953.5 2153.6M968.5 2106L968.5 2153.6M961 2168.6L961 2211.2M992.5 2168.6L992.5 2211.2M1023.6 2106L1044.6 2106 1044.4 2109.3 1043.6 2112.5 1042.3 2115.6 1040.6 2118.4 1038.5 2120.9 1035.9 2123 1033.1 2124.7 1030.1 2126 1026.9 2126.8 1023.6 2127M1066.2 2106L1066.2 2127 1062.9 2126.8 1059.7 2126 1056.6 2124.7 1053.8 2123 1051.3 2120.9 1049.1 2118.4 1047.4 2115.6 1046.2 2112.5 1045.4 2109.3 1045.1 2106M561.3 2281.3L635.4 2176.1 683 2203.7 567.8 2369 561.3 2369M561.3 2386.5L487.7 2494.2 474.1 2494.2M558.3 2206.2L558.3 2225.2 555.3 2225 552.4 2224.3 549.6 2223.1 547.1 2221.6 544.8 2219.6 542.9 2217.4 541.3 2214.8 540.2 2212.1 539.5 2209.2 539.2 2206.2M558.3 2242.2L539.2 2242.2 539.5 2239.3 540.2 2236.4 541.3 2233.6 542.9 2231 544.8 2228.8 547.1 2226.8 549.6 2225.3 552.4 2224.1 555.3 2223.4 558.3 2223.2M665.5 2288.8L713 2218.7 785.7 2246.2M665.5 2288.8L720.6 2323.9 785.7 2246.2M615.4 2406.5L631.4 2386.5 673 2390 647.9 2426.6ZM622.9 2399L639.4 2385.5M629.9 2404L646.4 2387M636.9 2409L653.4 2388.5M643.9 2414L660.5 2390M785.7 2248.7L809.2 2257.3 807.6 2260.9 805.4 2264.2 802.8 2267.1 799.7 2269.5 796.3 2271.4 792.6 2272.8 788.7 2273.6 784.8 2273.8 780.9 2273.3 777.1 2272.3M843.3 2276.3L834.7 2299.8 831.1 2298.2 827.9 2296 825 2293.4 822.5 2290.3 820.6 2286.9 819.2 2283.2 818.4 2279.3 818.2 2275.4 818.7 2271.5 819.7 2267.7M798.2 2739.6L919.4 2739.6M570.3 2106L620.4 2143.6 720.6 2211.2M562.8 2111L615.4 2151.1 715.5 2218.7M575.3 2101L625.4 2136.1 767.1 2143.6M665.5 1884L665.5 2004.2 609.4 2094.4M672 1884L672 2004.2M3701.1 1231.9L3717.2 1239.1 3733.2 1246.4 3749.3 1253.8 3765.4 1261.4 3781.4 1269 3797.5 1276.8 3813.5 1284.7 3829.6 1292.6 3845.7 1300.8 3861.7 1309 3877.8 1317.4 3893.9 1325.8 3909.9 1334.4 3926 1343.2 3942 1352 3958.1 1361 3974.2 1370.1 3990.2 1379.3 4006.3 1388.7 4022.4 1398.2 4038.4 1407.8 4054.5 1417.6 4070.5 1427.5 4086.6 1437.5 4102.7 1447.7 4118.7 1458 4134.8 1468.5 4150.9 1479.1 4166.9 1489.8 4183 1500.7 4199 1511.8 4215.1 1523 4231.2 1534.3 4247.2 1545.8 4263.3 1557.5 4279.4 1569.3 4295.4 1581.3 4311.5 1593.5 4327.5 1605.8 4343.6 1618.3M3701.1 1236.8L3717.1 1244 3733.1 1251.3 3749.1 1258.7 3765.1 1266.2 3781 1273.8 3797 1281.6 3813 1289.4 3829 1297.4 3845 1305.5 3861 1313.7 3877 1322 3893 1330.4 3908.9 1339 3924.9 1347.7 3940.9 1356.5 3956.9 1365.5 3972.9 1374.5 3988.9 1383.7 4004.9 1393.1 4020.9 1402.5 4036.8 1412.1 4052.8 1421.8 4068.8 1431.7 4084.8 1441.7 4100.8 1451.8 4116.8 1462.1 4132.8 1472.5 4148.8 1483.1 4164.7 1493.8 4180.7 1504.6 4196.7 1515.6 4212.7 1526.8 4228.7 1538.1 4244.7 1549.5 4260.7 1561.2 4276.7 1572.9 4292.6 1584.9 4308.6 1597 4324.6 1609.3 4340.6 1621.7M3550 789L3614.1 786.5M4345.9 1616.1L4251.8 1716.2M4340.9 1617.6L4247.8 1713.7M4334.4 1618.6L4244.8 1711.2M4254.3 1718.7L4269.3 1718.7 4269.3 1751.3 4254.3 1751.3M4254.3 1718.7L4269.3 1718.7 4269.1 1721.1 4268.6 1723.4 4267.7 1725.6 4266.4 1727.6 4264.9 1729.4 4263.1 1730.9 4261.1 1732.1 4258.9 1733 4256.6 1733.6 4254.3 1733.8M4254.3 1751.3L4254.3 1736.3 4256.6 1736.5 4258.9 1737 4261.1 1737.9 4263.1 1739.1 4264.9 1740.7 4266.4 1742.5 4267.7 1744.5 4268.6 1746.7 4269.1 1748.9 4269.3 1751.3M4254.3 1823.9L4269.3 1823.9 4269.3 1854 4254.3 1854M4254.3 1823.9L4269.3 1823.9 4269.1 1826.3 4268.6 1828.6 4267.7 1830.7 4266.4 1832.8 4264.9 1834.5 4263.1 1836.1 4261.1 1837.3 4258.9 1838.2 4256.6 1838.8 4254.3 1838.9M4254.3 1854L4254.3 1838.9 4256.6 1839.1 4258.9 1839.7 4261.1 1840.6 4263.1 1841.8 4264.9 1843.4 4266.4 1845.1 4267.7 1847.2 4268.6 1849.3 4269.1 1851.6 4269.3 1854M4056.4 1642.1L4077.5 1642.1 4077.2 1645.4 4076.4 1648.6 4075.2 1651.7 4073.4 1654.5 4071.3 1657 4068.8 1659.1 4066 1660.9 4062.9 1662.1 4059.7 1662.9 4056.4 1663.1M4162.6 1616.1L4204.2 1616.1M4162.6 1624.6L4204.2 1624.6M4162.6 1633.1L4204.2 1633.1M4162.6 1641.6L4204.2 1641.6M4162.6 1650.1L4204.2 1650.1M4162.6 1658.6L4204.2 1658.6M4162.6 1667.2L4204.2 1667.2M4162.6 1675.7L4204.2 1675.7M4162.6 1684.2L4204.2 1684.2M4162.6 1701.2L4204.2 1701.2M4162.6 1709.7L4204.2 1709.7M4162.6 1718.2L4204.2 1718.2M4162.6 1726.8L4204.2 1726.8M4162.6 1735.3L4204.2 1735.3M4206.7 1696.2L4215.7 1696.2M4236.7 1638.6L4221.7 1653.6M4243.8 1638.6L4228.7 1658.1M4250.8 1638.6L4235.7 1662.6M4257.8 1638.6L4242.8 1667.2M4264.8 1638.6L4249.8 1671.7M4271.8 1638.6L4256.8 1676.2M4278.8 1638.6L4263.8 1680.7M4184.1 1593.5L4184.1 1676.2 4224.2 1676.2 4251.8 1646.1M4216.7 1638.6L4296.8 1638.6M4000.3 1618.6L4000.3 1708.7M3997.3 1435.7L3974.8 1435.7 3975.1 1432.2 3975.9 1428.8 3977.2 1425.5 3979.1 1422.5 3981.4 1419.8 3984.1 1417.5 3987.1 1415.7 3990.4 1414.3 3993.8 1413.5 3997.3 1413.2M4159.1 1783.9L4159.1 1865M4117.5 1865L4251.8 1865M3811 1707.2L3986.3 1707.2M4026.4 1871.5L4068.9 1871.5 4068.9 1901.6 4026.4 1901.6ZM4037.4 1911.6H4058.9M4037.4 1920.1H4058.9M4037.4 1928.6H4058.9M4037.4 1937.1H4058.9M4037.4 1945.6H4058.9M4037.4 1954.1H4058.9M4037.4 1962.7H4058.9M4037.4 1971.2H4058.9M4037.4 1979.7H4058.9M4037.4 1988.2H4058.9M4037.4 1996.7H4058.9M4037.4 2005.2H4058.9M4037.4 2013.8H4058.9M4037.4 2022.3H4058.9M4037.4 2030.8H4058.9M4037.4 2039.3H4058.9M4037.4 2047.8H4058.9M4037.4 2056.3H4058.9M4037.4 2064.8H4058.9M4073 1901.6H4110.5M4073 1910.1H4110.5M4073 1918.6H4110.5M4073 1927.1H4110.5M4073 1935.6H4110.5M4073 1944.1H4110.5M4073 1952.6H4110.5M4073 1961.2H4110.5M4073 1969.7H4110.5M4073 1978.2H4110.5M4073 1986.7H4110.5M4073 1995.2H4110.5M4073 2003.7H4110.5M4073 2012.3H4110.5M4073 2020.8H4110.5M4073 2029.3H4110.5M4073 2037.8H4110.5M4073 2046.3H4110.5M4073 2054.8H4110.5M4073 2063.3H4110.5M4073 2071.9H4110.5M4073 1901.6L4110.5 1901.6 4110.5 2084.4 4073 2071.9 4073 1901.6M4018.9 2054.3L4111.5 2084.4M4047.4 1874L4047.4 2064.3M4091.5 1869L4091.5 2029.3M4114.5 2114.4L4092 2114.4 4092.3 2110.9 4093.1 2107.5 4094.4 2104.2 4096.3 2101.2 4098.6 2098.5 4101.3 2096.2 4104.3 2094.3 4107.6 2093 4111 2092.2 4114.5 2091.9M4620 1408L4620 2321.4M4418.6 1408L4652.5 1408M4418.6 1707.2L4652.5 1707.2M4418.6 2021.8L4652.5 2021.8M4418.6 2321.4L4652.5 2321.4M4089 2123.5L4113 2123.5M4113 2123.5L4090.5 2123.5 4090.8 2120 4091.6 2116.6 4092.9 2113.3 4094.8 2110.3 4097.1 2107.6 4099.8 2105.3 4102.8 2103.4 4106.1 2102.1 4109.5 2101.3 4113 2101M4274.3 2166.1L4324.4 2238.7M3935.2 2245.2L4003.8 2245.2 4003.8 2308.9 3935.2 2308.9ZM3947.2 2256.3L3989.8 2256.3 3989.8 2292.3 3947.2 2292.3ZM3947.2 2256.3L3989.8 2292.3M3989.8 2256.3L3947.2 2292.3M3954.8 2297.8L3982.8 2297.8 3982.8 2302.8 3954.8 2302.8ZM3940.2 2313.9L4003.8 2313.9M3888.6 2381.5L3898.7 2401.5M3871.1 2391.5L3863.6 2419M3891.1 2384L3910 2390.8 3908.7 2393.7 3906.9 2396.3 3904.8 2398.6 3902.3 2400.6 3899.6 2402.1 3896.7 2403.2 3893.6 2403.9 3890.4 2404 3887.3 2403.7 3884.3 2402.8M3866.1 2401.5L3876.1 2418.9 3873.3 2420.2 3870.3 2421.1 3867.1 2421.5 3864 2421.4 3860.9 2420.9 3857.9 2419.8 3855.2 2418.3 3852.7 2416.4 3850.5 2414.1 3848.7 2411.5M3380 2590.5L3406.1 2582.2 3432.1 2573.6 3458.2 2564.8 3484.3 2555.6 3510.3 2546.3 3536.4 2536.6 3562.5 2526.7 3588.5 2516.5 3614.6 2506.1 3640.7 2495.3 3666.7 2484.3 3692.8 2473 3718.9 2461.4 3744.9 2449.5 3771 2437.3 3797.1 2424.8 3823.1 2412 3849.2 2398.9 3875.3 2385.4 3901.3 2371.7 3927.4 2357.6 3953.5 2343.2 3979.5 2328.5 4005.6 2313.4 4031.7 2298 4057.7 2282.2 4083.8 2266.1 4109.9 2249.6 4135.9 2232.8 4162 2215.5M3688.2 2126L3787.9 2126M3688.2 2222.2L3787.9 2222.2M3744.3 2156.1L3787.9 2156.1M3744.3 2191.1L3787.9 2191.1M3787.9 2158.6L3762.8 2158.6 3763.2 2154.7 3764.1 2150.9 3765.6 2147.2 3767.6 2143.9 3770.2 2140.9 3773.2 2138.3 3776.5 2136.3 3780.2 2134.8 3784 2133.9 3787.9 2133.5M3787.9 2188.6L3787.9 2213.7 3784 2213.4 3780.2 2212.5 3776.5 2211 3773.2 2208.9 3770.2 2206.4 3767.6 2203.4 3765.6 2200 3764.1 2196.4 3763.2 2192.6 3762.8 2188.6M3684.7 2336.4L3709.8 2336.4 3709.4 2340.3 3708.5 2344.1 3707 2347.8 3705 2351.1 3702.4 2354.1 3699.4 2356.7 3696.1 2358.7 3692.5 2360.2 3688.6 2361.1 3684.7 2361.4M3688.2 2248.2L3726.8 2248.2M3726.8 2224.7L3726.8 2228.7 3714.3 2236.7 3726.8 2244.7 3726.8 2248.2M3688.2 2271.8L3726.8 2271.8M3726.8 2248.2L3726.8 2252.3 3714.3 2260.3 3726.8 2268.3 3726.8 2271.8M3688.2 2295.3L3726.8 2295.3M3726.8 2271.8L3726.8 2275.8 3714.3 2283.8 3726.8 2291.8 3726.8 2295.3M2885.3 2321.4L2885.3 2300.3 2888.6 2300.6 2891.8 2301.4 2894.9 2302.6 2897.7 2304.4 2900.2 2306.5 2902.3 2309 2904.1 2311.8 2905.3 2314.9 2906.1 2318.1 2906.4 2321.4M2927.9 2321.4L2906.9 2321.4 2907.1 2318.1 2907.9 2314.9 2909.2 2311.8 2910.9 2309 2913 2306.5 2915.5 2304.4 2918.3 2302.6 2921.4 2301.4 2924.6 2300.6 2927.9 2300.3M2945.4 2321.4L2945.4 2300.3 2948.7 2300.6 2951.9 2301.4 2955 2302.6 2957.8 2304.4 2960.3 2306.5 2962.4 2309 2964.2 2311.8 2965.4 2314.9 2966.2 2318.1 2966.5 2321.4M2985.5 2321.4L2964.5 2321.4 2964.7 2318.1 2965.5 2314.9 2966.8 2311.8 2968.5 2309 2970.6 2306.5 2973.1 2304.4 2975.9 2302.6 2979 2301.4 2982.2 2300.6 2985.5 2300.3M2870.3 2318.9L2885.3 2318.9 2885.3 2301.3M2927.9 2301.3L2927.9 2323.9 2945.4 2323.9 2945.4 2301.3M2985.5 2301.3L2985.5 2318.9 3050.6 2318.9M2870.3 2323.9L2885.3 2323.9M2985.5 2323.9L3050.6 2323.9M2700 2318.9L2827.7 2318.9M2700 2323.9L2827.7 2323.9M3200.9 2480.7L3229.9 2480.7M3197.4 2480.7L3212.9 2497.7 3229.9 2480.7 3292 2480.7M1871.1 2306.3L1871.1 2282.3 1874.8 2282.6 1878.5 2283.5 1882 2284.9 1885.2 2286.9 1888.1 2289.3 1890.5 2292.2 1892.5 2295.4 1893.9 2298.9 1894.8 2302.6 1895.1 2306.3M1975.7 2331.4L1975.7 2351.4 1972.6 2351.2 1969.5 2350.4 1966.6 2349.2 1964 2347.6 1961.6 2345.6 1959.5 2343.2 1957.9 2340.5 1956.7 2337.6 1956 2334.5 1955.7 2331.4M1975.7 2371.5L1955.7 2371.5 1956 2368.3 1956.7 2365.3 1957.9 2362.4 1959.5 2359.7 1961.6 2357.3 1964 2355.3 1966.6 2353.6 1969.5 2352.4 1972.6 2351.7 1975.7 2351.4M1874.6 2127L1914.1 2127M1914.1 2106L1914.1 2110 1900.6 2116 1914.1 2123 1914.1 2127M1874.6 2150.6L1914.1 2150.6M1914.1 2129.5L1914.1 2133.5 1900.6 2139.6 1914.1 2146.6 1914.1 2150.6M1875.6 2153.6L1889.6 2153.6 1889.6 2166.1 1875.6 2166.1ZM1875.6 2153.6L1889.6 2166.1M1889.6 2153.6L1875.6 2166.1M1798.9 2485.2V2521.7M1805.2 2485.2V2521.7M1811.5 2485.2V2521.7M1817.7 2485.2V2521.7M1824 2485.2V2521.7M1830.2 2485.2V2521.7M1836.5 2485.2V2521.7M1842.8 2485.2V2521.7M1849 2485.2V2521.7M1855.3 2485.2V2521.7M1902.1 2485.2V2521.7M1908.4 2485.2V2521.7M1914.6 2485.2V2521.7M1920.9 2485.2V2521.7M1927.2 2485.2V2521.7M1933.4 2485.2V2521.7M1939.7 2485.2V2521.7M1945.9 2485.2V2521.7M1952.2 2485.2V2521.7M1958.5 2485.2V2521.7M1964.7 2485.2V2521.7M1971 2485.2V2521.7M1818 2539.3V2559.3M1824.5 2539.3V2559.3M1831 2539.3V2559.3M1837.5 2539.3V2559.3M1844 2539.3V2559.3M1850.5 2539.3V2559.3M1857 2539.3V2559.3M1863.5 2539.3V2559.3M1870.1 2539.3V2559.3M1876.6 2539.3V2559.3M1883.1 2539.3V2559.3M1889.6 2539.3V2559.3M1896.1 2539.3V2559.3M1902.6 2539.3V2559.3M1909.1 2539.3V2559.3M1915.6 2539.3V2559.3M1922.1 2539.3V2559.3M1928.7 2539.3V2559.3M1935.2 2539.3V2559.3M1941.7 2539.3V2559.3M1948.2 2539.3V2559.3M1954.7 2539.3V2559.3M1961.2 2539.3V2559.3M1967.7 2539.3V2559.3M1773.9 2482.7L1773.9 2654.5M1781.4 2482.7L1781.4 2657M1791.9 2485.2L1820.5 2577.8M1845.5 2503.2L2003.3 2503.2M1802.9 2528.2L2003.3 2528.2 2003.3 2569.3 1802.9 2569.3ZM1970.7 2535.2L1979.2 2535.2M1970.7 2560.8L1979.2 2560.8M1973.2 2548.3L2003.3 2548.3M1550 2528.2L1622.6 2528.2 1622.6 2524.7 1609.1 2524.7M1550 2533.2L1622.6 2533.2M2101 2106L2101 2318.9M2186.6 2374L2186.6 2395 2183.3 2394.7 2180.1 2394 2177.1 2392.7 2174.2 2391 2171.7 2388.8 2169.6 2386.3 2167.9 2383.5 2166.6 2380.5 2165.8 2377.3 2165.6 2374M2186.6 2415.5L2165.6 2415.5 2165.8 2412.2 2166.6 2409 2167.9 2406 2169.6 2403.2 2171.7 2400.7 2174.2 2398.5 2177.1 2396.8 2180.1 2395.5 2183.3 2394.8 2186.6 2394.5M2186.6 2674.5L2161.6 2674.5 2161.9 2670.6 2162.8 2666.7 2164.3 2663.1 2166.3 2659.8 2168.9 2656.8 2171.9 2654.2 2175.2 2652.2 2178.9 2650.7 2182.7 2649.8 2186.6 2649.4M2201.1 2318.9L2251.2 2318.9M2201.1 2323.9L2251.2 2323.9M2293.8 2318.9L2470.6 2318.9M2293.8 2323.9L2470.6 2323.9M2511.7 2318.9L2606.8 2318.9M2511.7 2323.9L2606.8 2323.9M2649.4 2318.9L2700 2318.9M2649.4 2323.9L2700 2323.9M807 2012.5L902.4 2012.5M808.2 2012.5L823.8 2028.5 839.8 2012.5M3197 2480.7L3292 2480.7M3197 2480.7L3213 2497.7 3229.5 2480.7M3061 905.4L3086 807.7 3550 790 3614 787.5" stroke-width="1"/>
<path d="M1511.5 807.6L1847 807.6M1511.5 835.2L1847 835.2M1511.5 845.2L1847 845.2M1511.5 872.8L1847 872.8M622.7 1617.9L729.2 1543.2M622.7 1620.4L690.4 1694.3M686.6 1625.9L720 1602.1 720 1654.7 710.4 1654.7ZM781.9 1640.4L812 1640.4M768.1 1746.9L931 1746.9M828.3 1703.8L828.3 1746.4M848.8 1747.7L848.8 1824.6M651.5 1763.2L704.2 1763.2 704.2 1793.8M1555 1135.8L1555 1401.2M1785.4 1869L1785.4 1959.2M1910.6 1911.6L1975.7 1911.6M1910.6 1964.2L1975.7 1964.2M1910.6 1911.6L1910.6 1964.2M1421.8 1961.7L1550 1961.7M1421.8 1989.2L1550 1989.2M4205.2 1612.6L4205.2 1653.6 4215.7 1653.6 4229.2 1638.6 4284.3 1638.6 4236.7 1693.7M4205.2 1696.2L4205.2 1740.3M4031.4 1896.5L4031.4 2066.8M4035.4 1906.6L4035.4 2066.8M4059.9 1896.5L4059.9 2066.8M4064.9 1906.6L4064.9 2066.8M3953.7 2251.3L3983.8 2251.3M3744.3 2156.1L3744.3 2191.1M1802.9 2532.7L1970.7 2532.7M1813 2562.8L1970.7 2562.8M677 1190L704 1190 704 1205" stroke-width="2.6"/>
<g><path d="M1383.5 911.1L1383.5 1129.7M1385.3 1066L1414.1 1066M1440.4 1066L1446.7 1066M1474.3 1066L1500.6 1066M1526.9 1066L1556.5 1066 1556.5 1050.8M1469.5 911.1L1469.5 1009.4M1556.5 968L1556.5 1050.8 1572 1050.8M1602.1 1050.8L1752.5 1050.8M1617.4 911.1L1617.4 1050.8M1556.5 968L1615.9 968M1556.5 985.6L1615.9 985.6M1673.6 993.6L1751.3 993.6" stroke-width="5"/><path d="M1383.5 911.1L1383.5 1129.7M1385.3 1066L1414.1 1066M1440.4 1066L1446.7 1066M1474.3 1066L1500.6 1066M1526.9 1066L1556.5 1066 1556.5 1050.8M1469.5 911.1L1469.5 1009.4M1556.5 968L1556.5 1050.8 1572 1050.8M1602.1 1050.8L1752.5 1050.8M1617.4 911.1L1617.4 1050.8M1556.5 968L1615.9 968M1556.5 985.6L1615.9 985.6M1673.6 993.6L1751.3 993.6" stroke="#fff" stroke-width="3"/><path d="M1621.4 912.9L1621.4 1048.3M1385.3 1008.9L1554.5 1008.9M1443 1008.9L1443 1064.5M1496.8 1008.9L1496.8 1064.5M1431.7 936.2L1508.1 936.2M1431.7 959.3L1508.1 959.3M1431.7 982.6L1508.1 982.6M1431.7 1006.9L1508.1 1006.9M1431.7 936.2L1431.7 941.2 1445.5 947.5 1431.7 954.3 1431.7 959.3M1431.7 959.3L1431.7 964.3 1445.5 970.5 1431.7 977.3 1431.7 982.3M1431.7 982.6L1431.7 987.6 1445.5 993.9 1431.7 1000.6 1431.7 1005.6M1508.1 936.2L1508.1 941.2 1494.3 947.5 1508.1 954.3 1508.1 959.3M1508.1 959.3L1508.1 964.3 1494.3 970.5 1508.1 977.3 1508.1 982.3M1508.1 982.6L1508.1 987.6 1494.3 993.9 1508.1 1000.6 1508.1 1005.6M1387.8 936.7L1399.1 936.7M1387.8 960.5L1399.1 960.5M1387.8 983.8L1399.1 983.8M1387.8 1010.2L1401.6 1010.2 1401.6 1060.8 1387.8 1060.8M1553.2 1010.2L1538.2 1010.2 1538.2 1060.8 1553.2 1060.8M1455.5 919.7L1468 919.7 1468 934.7 1455.5 934.7ZM1455.5 919.7L1468 934.7M1468 919.7L1455.5 934.7M1471.8 919.7L1484.3 919.7 1484.3 934.7 1471.8 934.7ZM1471.8 919.7L1484.3 934.7M1484.3 919.7L1471.8 934.7M1440.4 1064.5L1414.4 1064.5 1414.8 1060.5 1415.7 1056.5 1417.3 1052.7 1419.4 1049.3 1422.1 1046.2 1425.2 1043.5 1428.6 1041.4 1432.4 1039.8 1436.4 1038.9 1440.4 1038.5M1446.7 1064.5L1446.7 1037.5 1450.9 1037.9 1455.1 1038.9 1459 1040.5 1462.6 1042.7 1465.8 1045.5 1468.6 1048.7 1470.8 1052.3 1472.4 1056.2 1473.4 1060.3 1473.7 1064.5M1526.9 1064.5L1500.9 1064.5 1501.2 1060.5 1502.2 1056.5 1503.8 1052.7 1505.9 1049.3 1508.5 1046.2 1511.6 1043.5 1515.1 1041.4 1518.9 1039.8 1522.9 1038.9 1526.9 1038.5M1556.5 968L1556.5 948 1559.6 948.3 1562.7 949 1565.6 950.2 1568.3 951.9 1570.6 953.9 1572.7 956.3 1574.3 959 1575.5 961.9 1576.3 964.9 1576.5 968M1558.3 989.3L1615.9 989.3 1615.9 1048.3 1558.3 1048.3ZM1562.8 1005.6L1611.4 1005.6 1611.4 1043.2 1562.8 1043.2ZM1562.8 1005.6L1611.4 1043.2M1611.4 1005.6L1562.8 1043.2M1572.5 995.1L1601.6 995.1 1601.6 1000.1 1572.5 1000.1ZM1385.3 1074.1L1408.3 1074.1 1408 1077.7 1407.2 1081.2 1405.8 1084.5 1403.9 1087.6 1401.6 1090.3 1398.8 1092.7 1395.7 1094.6 1392.4 1095.9 1388.9 1096.8 1385.3 1097.1M1385.3 1120.9L1385.3 1097.9 1388.9 1098.2 1392.4 1099.1 1395.7 1100.4 1398.8 1102.3 1401.6 1104.7 1403.9 1107.4 1405.8 1110.5 1407.2 1113.8 1408 1117.3 1408.3 1120.9M1382 1073.3L1387.8 1073.3M1382 1120.9L1387.8 1120.9M1677.3 939.2L1677.3 991.9M1677.3 995.6L1677.3 1047M1685.1 939.2L1685.1 991.9M1685.1 995.6L1685.1 1047M1692.9 939.2L1692.9 991.9M1692.9 995.6L1692.9 1047M1700.7 939.2L1700.7 991.9M1700.7 995.6L1700.7 1047M1708.5 939.2L1708.5 991.9M1708.5 995.6L1708.5 1047M1716.3 939.2L1716.3 991.9M1716.3 995.6L1716.3 1047M1724.1 939.2L1724.1 991.9M1724.1 995.6L1724.1 1047M1731.9 939.2L1731.9 991.9M1731.9 995.6L1731.9 1047M1739.7 939.2L1739.7 991.9M1739.7 995.6L1739.7 1047M1747.5 939.2L1747.5 991.9M1747.5 995.6L1747.5 1047M1621.4 939.2L1752.5 939.2 1752.5 913.7M1696.1 993.6L1709.9 1047M1699.1 993.6L1712.9 1047M1755 966.3L1656 966.3 1656 1021.4 1755 1021.4" stroke-width="1"/><path d="M1431.7 1008.9L1508.1 1008.9M1443 1008.9L1443 1060.8M1496.8 1008.9L1496.8 1060.8M1572.5 1045.7L1602.1 1045.7" stroke-width="2.6"/><ellipse cx="1454.7" cy="947.5" rx="7" ry="5" fill="none" stroke="#000" stroke-width="1"/><ellipse cx="1454.7" cy="947.5" rx="3.5" ry="2.5" fill="none" stroke="#000" stroke-width="0.9"/><ellipse cx="1454.7" cy="971.1" rx="7" ry="5" fill="none" stroke="#000" stroke-width="1"/><ellipse cx="1454.7" cy="971.1" rx="3.5" ry="2.5" fill="none" stroke="#000" stroke-width="0.9"/><ellipse cx="1454.7" cy="994.9" rx="7" ry="5" fill="none" stroke="#000" stroke-width="1"/><ellipse cx="1454.7" cy="994.9" rx="3.5" ry="2.5" fill="none" stroke="#000" stroke-width="0.9"/><ellipse cx="1485.6" cy="947.5" rx="7" ry="5" fill="none" stroke="#000" stroke-width="1"/><ellipse cx="1485.6" cy="947.5" rx="3.5" ry="2.5" fill="none" stroke="#000" stroke-width="0.9"/><ellipse cx="1485.6" cy="971.1" rx="7" ry="5" fill="none" stroke="#000" stroke-width="1"/><ellipse cx="1485.6" cy="971.1" rx="3.5" ry="2.5" fill="none" stroke="#000" stroke-width="0.9"/><ellipse cx="1485.6" cy="994.9" rx="7" ry="5" fill="none" stroke="#000" stroke-width="1"/><ellipse cx="1485.6" cy="994.9" rx="3.5" ry="2.5" fill="none" stroke="#000" stroke-width="0.9"/><ellipse cx="1392.3" cy="925.4" rx="4.5" ry="5.5" fill="none" stroke="#000" stroke-width="1"/><ellipse cx="1392.3" cy="948.5" rx="4.5" ry="5.5" fill="none" stroke="#000" stroke-width="1"/><ellipse cx="1392.3" cy="971.8" rx="4.5" ry="5.5" fill="none" stroke="#000" stroke-width="1"/><ellipse cx="1392.3" cy="995.6" rx="4.5" ry="5.5" fill="none" stroke="#000" stroke-width="1"/><ellipse cx="1394.1" cy="1024.4" rx="5.5" ry="7.5" fill="none" stroke="#000" stroke-width="1"/><ellipse cx="1394.1" cy="1043.2" rx="5.5" ry="7.5" fill="none" stroke="#000" stroke-width="1"/><ellipse cx="1545.7" cy="1024.4" rx="5.5" ry="7.5" fill="none" stroke="#000" stroke-width="1"/><ellipse cx="1545.7" cy="1043.2" rx="5.5" ry="7.5" fill="none" stroke="#000" stroke-width="1"/><path d="M1693.6 1021.4l10 -2.2v4.4z M1718.7 1021.4l10 -2.2v4.4z" fill="#000"/></g><g transform="translate(4924.6,0) scale(-1,1)"><path d="M1383.5 911.1L1383.5 1129.7M1385.3 1066L1414.1 1066M1440.4 1066L1446.7 1066M1474.3 1066L1500.6 1066M1526.9 1066L1556.5 1066 1556.5 1050.8M1469.5 911.1L1469.5 1009.4M1556.5 968L1556.5 1050.8 1572 1050.8M1602.1 1050.8L1752.5 1050.8M1617.4 911.1L1617.4 1050.8M1556.5 968L1615.9 968M1556.5 985.6L1615.9 985.6M1673.6 993.6L1751.3 993.6" stroke-width="5"/><path d="M1383.5 911.1L1383.5 1129.7M1385.3 1066L1414.1 1066M1440.4 1066L1446.7 1066M1474.3 1066L1500.6 1066M1526.9 1066L1556.5 1066 1556.5 1050.8M1469.5 911.1L1469.5 1009.4M1556.5 968L1556.5 1050.8 1572 1050.8M1602.1 1050.8L1752.5 1050.8M1617.4 911.1L1617.4 1050.8M1556.5 968L1615.9 968M1556.5 985.6L1615.9 985.6M1673.6 993.6L1751.3 993.6" stroke="#fff" stroke-width="3"/><path d="M1621.4 912.9L1621.4 1048.3M1385.3 1008.9L1554.5 1008.9M1443 1008.9L1443 1064.5M1496.8 1008.9L1496.8 1064.5M1431.7 936.2L1508.1 936.2M1431.7 959.3L1508.1 959.3M1431.7 982.6L1508.1 982.6M1431.7 1006.9L1508.1 1006.9M1431.7 936.2L1431.7 941.2 1445.5 947.5 1431.7 954.3 1431.7 959.3M1431.7 959.3L1431.7 964.3 1445.5 970.5 1431.7 977.3 1431.7 982.3M1431.7 982.6L1431.7 987.6 1445.5 993.9 1431.7 1000.6 1431.7 1005.6M1508.1 936.2L1508.1 941.2 1494.3 947.5 1508.1 954.3 1508.1 959.3M1508.1 959.3L1508.1 964.3 1494.3 970.5 1508.1 977.3 1508.1 982.3M1508.1 982.6L1508.1 987.6 1494.3 993.9 1508.1 1000.6 1508.1 1005.6M1387.8 936.7L1399.1 936.7M1387.8 960.5L1399.1 960.5M1387.8 983.8L1399.1 983.8M1387.8 1010.2L1401.6 1010.2 1401.6 1060.8 1387.8 1060.8M1553.2 1010.2L1538.2 1010.2 1538.2 1060.8 1553.2 1060.8M1455.5 919.7L1468 919.7 1468 934.7 1455.5 934.7ZM1455.5 919.7L1468 934.7M1468 919.7L1455.5 934.7M1471.8 919.7L1484.3 919.7 1484.3 934.7 1471.8 934.7ZM1471.8 919.7L1484.3 934.7M1484.3 919.7L1471.8 934.7M1440.4 1064.5L1414.4 1064.5 1414.8 1060.5 1415.7 1056.5 1417.3 1052.7 1419.4 1049.3 1422.1 1046.2 1425.2 1043.5 1428.6 1041.4 1432.4 1039.8 1436.4 1038.9 1440.4 1038.5M1446.7 1064.5L1446.7 1037.5 1450.9 1037.9 1455.1 1038.9 1459 1040.5 1462.6 1042.7 1465.8 1045.5 1468.6 1048.7 1470.8 1052.3 1472.4 1056.2 1473.4 1060.3 1473.7 1064.5M1526.9 1064.5L1500.9 1064.5 1501.2 1060.5 1502.2 1056.5 1503.8 1052.7 1505.9 1049.3 1508.5 1046.2 1511.6 1043.5 1515.1 1041.4 1518.9 1039.8 1522.9 1038.9 1526.9 1038.5M1556.5 968L1556.5 948 1559.6 948.3 1562.7 949 1565.6 950.2 1568.3 951.9 1570.6 953.9 1572.7 956.3 1574.3 959 1575.5 961.9 1576.3 964.9 1576.5 968M1558.3 989.3L1615.9 989.3 1615.9 1048.3 1558.3 1048.3ZM1562.8 1005.6L1611.4 1005.6 1611.4 1043.2 1562.8 1043.2ZM1562.8 1005.6L1611.4 1043.2M1611.4 1005.6L1562.8 1043.2M1572.5 995.1L1601.6 995.1 1601.6 1000.1 1572.5 1000.1ZM1385.3 1074.1L1408.3 1074.1 1408 1077.7 1407.2 1081.2 1405.8 1084.5 1403.9 1087.6 1401.6 1090.3 1398.8 1092.7 1395.7 1094.6 1392.4 1095.9 1388.9 1096.8 1385.3 1097.1M1385.3 1120.9L1385.3 1097.9 1388.9 1098.2 1392.4 1099.1 1395.7 1100.4 1398.8 1102.3 1401.6 1104.7 1403.9 1107.4 1405.8 1110.5 1407.2 1113.8 1408 1117.3 1408.3 1120.9M1382 1073.3L1387.8 1073.3M1382 1120.9L1387.8 1120.9M1677.3 939.2L1677.3 991.9M1677.3 995.6L1677.3 1047M1685.1 939.2L1685.1 991.9M1685.1 995.6L1685.1 1047M1692.9 939.2L1692.9 991.9M1692.9 995.6L1692.9 1047M1700.7 939.2L1700.7 991.9M1700.7 995.6L1700.7 1047M1708.5 939.2L1708.5 991.9M1708.5 995.6L1708.5 1047M1716.3 939.2L1716.3 991.9M1716.3 995.6L1716.3 1047M1724.1 939.2L1724.1 991.9M1724.1 995.6L1724.1 1047M1731.9 939.2L1731.9 991.9M1731.9 995.6L1731.9 1047M1739.7 939.2L1739.7 991.9M1739.7 995.6L1739.7 1047M1747.5 939.2L1747.5 991.9M1747.5 995.6L1747.5 1047M1621.4 939.2L1752.5 939.2 1752.5 913.7M1696.1 993.6L1709.9 1047M1699.1 993.6L1712.9 1047M1755 966.3L1656 966.3 1656 1021.4 1755 1021.4" stroke-width="1"/><path d="M1431.7 1008.9L1508.1 1008.9M1443 1008.9L1443 1060.8M1496.8 1008.9L1496.8 1060.8M1572.5 1045.7L1602.1 1045.7" stroke-width="2.6"/><ellipse cx="1454.7" cy="947.5" rx="7" ry="5" fill="none" stroke="#000" stroke-width="1"/><ellipse cx="1454.7" cy="947.5" rx="3.5" ry="2.5" fill="none" stroke="#000" stroke-width="0.9"/><ellipse cx="1454.7" cy="971.1" rx="7" ry="5" fill="none" stroke="#000" stroke-width="1"/><ellipse cx="1454.7" cy="971.1" rx="3.5" ry="2.5" fill="none" stroke="#000" stroke-width="0.9"/><ellipse cx="1454.7" cy="994.9" rx="7" ry="5" fill="none" stroke="#000" stroke-width="1"/><ellipse cx="1454.7" cy="994.9" rx="3.5" ry="2.5" fill="none" stroke="#000" stroke-width="0.9"/><ellipse cx="1485.6" cy="947.5" rx="7" ry="5" fill="none" stroke="#000" stroke-width="1"/><ellipse cx="1485.6" cy="947.5" rx="3.5" ry="2.5" fill="none" stroke="#000" stroke-width="0.9"/><ellipse cx="1485.6" cy="971.1" rx="7" ry="5" fill="none" stroke="#000" stroke-width="1"/><ellipse cx="1485.6" cy="971.1" rx="3.5" ry="2.5" fill="none" stroke="#000" stroke-width="0.9"/><ellipse cx="1485.6" cy="994.9" rx="7" ry="5" fill="none" stroke="#000" stroke-width="1"/><ellipse cx="1485.6" cy="994.9" rx="3.5" ry="2.5" fill="none" stroke="#000" stroke-width="0.9"/><ellipse cx="1392.3" cy="925.4" rx="4.5" ry="5.5" fill="none" stroke="#000" stroke-width="1"/><ellipse cx="1392.3" cy="948.5" rx="4.5" ry="5.5" fill="none" stroke="#000" stroke-width="1"/><ellipse cx="1392.3" cy="971.8" rx="4.5" ry="5.5" fill="none" stroke="#000" stroke-width="1"/><ellipse cx="1392.3" cy="995.6" rx="4.5" ry="5.5" fill="none" stroke="#000" stroke-width="1"/><ellipse cx="1394.1" cy="1024.4" rx="5.5" ry="7.5" fill="none" stroke="#000" stroke-width="1"/><ellipse cx="1394.1" cy="1043.2" rx="5.5" ry="7.5" fill="none" stroke="#000" stroke-width="1"/><ellipse cx="1545.7" cy="1024.4" rx="5.5" ry="7.5" fill="none" stroke="#000" stroke-width="1"/><ellipse cx="1545.7" cy="1043.2" rx="5.5" ry="7.5" fill="none" stroke="#000" stroke-width="1"/><path d="M1693.6 1021.4l10 -2.2v4.4z M1718.7 1021.4l10 -2.2v4.4z" fill="#000"/></g>
</g>
<g fill="#000"><circle cx="489" cy="546" r="4.5"/><circle cx="489" cy="1094.6" r="4.5"/><circle cx="489" cy="1543.5" r="4.5"/></g><path d="M1976.3 554L1978.8 570H1973.8Z" fill="#000"/><path d="M2254.5 554L2257 570H2252Z" fill="#000"/><path d="M2670.4 554L2672.9 570H2667.9Z" fill="#000"/><path d="M2948 554L2950.5 570H2945.5Z" fill="#000"/><g fill="none" stroke="#000" stroke-width="1"><circle cx="2331" cy="910" r="32"/><circle cx="2396.6" cy="910" r="32"/><circle cx="2462.2" cy="910" r="32"/><circle cx="2527.8" cy="910" r="32"/><circle cx="2593.4" cy="910" r="32"/><path d="M2266.5 878A32 32 0 0 1 2266.5 942M2658.1 878A32 32 0 0 0 2658.1 942"/></g><path d="M2254 905h11.5v11h-11.5zM2659.2 905h11.5v11h-11.5z" fill="#000"/><rect x="1937.6" y="1015" width="234.4" height="10.4" fill="#1380be"/><rect x="1939.1" y="913.5" width="231.4" height="106.7" fill="#1380be" stroke="#000" stroke-width="3"/><path fill="#fe0000" d="M1938.9 1028H2001.5V1043.7H1938.9ZM2032.3 1028H2095V1043.7H2032.3ZM2126 1028H2168V1043.7H2126Z"/><rect x="2757" y="913.5" width="141" height="107.5" fill="#a2b0d8" stroke="#000" stroke-width="2.2" stroke-dasharray="4 2.2"/><rect x="2898" y="913.5" width="143.3" height="107.5" fill="#a2b0d8" stroke="#000" stroke-width="2.2" stroke-dasharray="4 2.2"/><path fill="#fe0000" d="M2755.6 1025.6H2818V1041.6H2755.6ZM2850 1025.6H2912V1041.6H2850ZM2943.5 1025.6H3005V1041.6H2943.5ZM3036.6 1025.6H3039.6V1041.6H3036.6Z"/><rect x="3171.4" y="1129.8" width="195.3" height="275.5" fill="#c490c0" stroke="#000" stroke-width="1.2" stroke-dasharray="9 4"/><path fill="#fe0000" d="M3150 1133.8H3166V1195H3150ZM3150 1227H3166V1288.5H3150ZM3150 1320H3166V1382H3150ZM3193 1113H3254.6V1129H3193ZM3286.6 1113H3348.7V1129H3286.6Z"/><rect x="3687.8" y="1862" width="105.2" height="166" fill="#c490c0" stroke="#000" stroke-width="1.2" stroke-dasharray="9 4"/><path fill="#fe0000" d="M3710 1845.5H3772V1860.5H3710ZM3794.5 1870H3810V1931.6H3794.5ZM3794.5 1964H3810V2025H3794.5Z"/><rect x="1773.9" y="2321.4" width="94.1" height="161.3" fill="#c490c0" stroke="#000" stroke-width="1.2" stroke-dasharray="9 4"/><path fill="#fe0000" d="M1792.4 2304.9H1854.6V2320.4H1792.4ZM1755.4 2330.4H1770.4V2392.5H1755.4ZM1755.4 2424H1770.4V2481.7H1755.4Z"/><path d="M2403.3 1235H2482.6L2443 1268.5Z" fill="#000"/><path d="M2183.7 1096.4V1394M2189.5 1096.4V1394" stroke="#5b4a6e" stroke-width="1" fill="none"/><path d="M1221 1235.4L1205.2 1242.5 1189.5 1249.7 1173.7 1257 1157.9 1264.4 1142.1 1272 1126.3 1279.6 1110.6 1287.3 1094.8 1295.2 1079 1303.2 1063.2 1311.3 1047.5 1319.5 1031.7 1327.8 1015.9 1336.3 1000.1 1344.8 984.4 1353.5 968.6 1362.3 952.8 1371.3 937 1380.3 921.3 1389.5 905.5 1398.8 889.7 1408.2 874 1417.8 858.2 1427.5 842.4 1437.3 826.6 1447.3 810.9 1457.4 795.1 1467.6 779.3 1478 763.5 1488.5 747.8 1499.2 732 1510 716.2 1521 700.4 1532.1 684.6 1543.3 668.9 1554.7 653.1 1566.3 637.3 1578 621.5 1589.9 605.8 1601.9 590 1614.1" fill="none" stroke="#333" stroke-width="2.6" stroke-dasharray="26 10"/><ellipse cx="832" cy="1788.8" rx="7" ry="5" fill="none" stroke="#000" stroke-width="1"/><ellipse cx="832" cy="1812.1" rx="7" ry="5" fill="none" stroke="#000" stroke-width="1"/><ellipse cx="864.1" cy="1788.8" rx="7" ry="5" fill="none" stroke="#000" stroke-width="1"/><ellipse cx="864.1" cy="1812.1" rx="7" ry="5" fill="none" stroke="#000" stroke-width="1"/><ellipse cx="775.1" cy="1849.7" rx="5.5" ry="7.5" fill="none" stroke="#000" stroke-width="1"/><ellipse cx="921.7" cy="1849.7" rx="5.5" ry="7.5" fill="none" stroke="#000" stroke-width="1"/><ellipse cx="781.1" cy="1723.9" rx="6" ry="5" fill="none" stroke="#000" stroke-width="1"/><path d="M800 2244.9L841.6 2271.3 883.1 2296.8 924.7 2321.4 966.2 2345.1 1007.8 2367.9 1049.4 2390 1090.9 2411.2 1132.5 2431.6 1174.1 2451.3 1215.6 2470.2 1257.2 2488.3 1298.8 2505.8 1340.3 2522.5 1381.9 2538.5 1423.4 2553.9 1465 2568.5 1506.6 2582.5 1548.1 2595.8 1589.7 2608.5 1631.2 2620.5 1672.8 2632 1714.4 2642.7 1755.9 2652.9 1797.5 2662.4 1839.1 2671.4 1880.6 2679.7 1922.2 2687.5 1963.8 2694.6 2005.3 2701.2 2046.9 2707.2 2088.4 2712.6 2130 2717.4 2171.6 2721.7 2213.1 2725.3 2254.7 2728.5 2296.2 2731 2337.8 2733 2379.4 2734.4 2420.9 2735.2 2462.5 2735.5 2504.1 2735.2 2545.6 2734.4 2587.2 2733 2628.8 2731 2670.3 2728.4 2711.9 2725.3 2753.4 2721.6 2795 2717.4 2836.6 2712.5 2878.1 2707.1 2919.7 2701.1 2961.2 2694.6 3002.8 2687.4 3044.4 2679.7 3085.9 2671.3 3127.5 2662.4 3169.1 2652.8 3210.6 2642.6 3252.2 2631.8 3293.8 2620.4 3335.3 2608.4 3376.9 2595.7 3418.4 2582.4 3460 2568.4 3501.6 2553.7 3543.1 2538.4 3584.7 2522.3 3626.2 2505.6 3667.8 2488.2 3709.4 2470 3750.9 2451.1 3792.5 2431.4 3834.1 2411 3875.6 2389.7 3917.2 2367.7 3958.8 2344.8 4000.3 2321.1 4041.9 2296.5 4083.4 2271.1 4125 2244.6" fill="none" stroke="#000" stroke-width="2.2"/><g transform="translate(1331.4,2517.7) rotate(25)" fill="none" stroke="#000" stroke-width="1"><circle r="32"/><path d="M-1.3 -32V32M1.3 -32V32M-65.5 -32A32 32 0 0 1 -65.5 32ZM65.5 -32A32 32 0 0 0 65.5 32ZM-67.5 -32V32M67.5 -32V32"/></g><g transform="translate(2020.7,2703) rotate(9)" fill="none" stroke="#000" stroke-width="1"><circle r="32"/><path d="M-1.3 -32V32M1.3 -32V32M-65.5 -32A32 32 0 0 1 -65.5 32ZM65.5 -32A32 32 0 0 0 65.5 32ZM-67.5 -32V32M67.5 -32V32"/></g><g transform="translate(4108,2254) rotate(-34)" fill="none" stroke="#000" stroke-width="1"><circle r="32"/><path d="M-1.3 -32V32M1.3 -32V32M-65.5 -32A32 32 0 0 1 -65.5 32ZM65.5 -32A32 32 0 0 0 65.5 32ZM-67.5 -32V32M67.5 -32V32"/></g><ellipse cx="1889.6" cy="1551.4" rx="6.5" ry="5" fill="none" stroke="#000" stroke-width="1"/><ellipse cx="1889.6" cy="1575.2" rx="6.5" ry="5" fill="none" stroke="#000" stroke-width="1"/><ellipse cx="1889.6" cy="1599" rx="6.5" ry="5" fill="none" stroke="#000" stroke-width="1"/><ellipse cx="1889.6" cy="1622.8" rx="6.5" ry="5" fill="none" stroke="#000" stroke-width="1"/><ellipse cx="1889.6" cy="1646.6" rx="6.5" ry="5" fill="none" stroke="#000" stroke-width="1"/><ellipse cx="1889.6" cy="1670.4" rx="6.5" ry="5" fill="none" stroke="#000" stroke-width="1"/><ellipse cx="1889.6" cy="1694.2" rx="6.5" ry="5" fill="none" stroke="#000" stroke-width="1"/><ellipse cx="1770.4" cy="1900.1" rx="6.5" ry="4.5" fill="none" stroke="#000" stroke-width="1"/><ellipse cx="1770.4" cy="1923.1" rx="6.5" ry="4.5" fill="none" stroke="#000" stroke-width="1"/><ellipse cx="1770.4" cy="1946.6" rx="6.5" ry="4.5" fill="none" stroke="#000" stroke-width="1"/><ellipse cx="1803.9" cy="1900.1" rx="6.5" ry="4.5" fill="none" stroke="#000" stroke-width="1"/><ellipse cx="1803.9" cy="1923.1" rx="6.5" ry="4.5" fill="none" stroke="#000" stroke-width="1"/><ellipse cx="1803.9" cy="1946.6" rx="6.5" ry="4.5" fill="none" stroke="#000" stroke-width="1"/><g transform="translate(768.1,2186.1) rotate(33)" fill="none" stroke="#000" stroke-width="1"><rect x="-22" y="-19" width="44" height="38"/><path d="M-22 -19L22 19M22 -19L-22 19"/><rect x="-14" y="24" width="28" height="4"/></g><path d="M676.5 2208.7L570.3 2366.5" fill="none" stroke="#444" stroke-width="3"/><circle cx="798.2" cy="2739.6" r="2.5" fill="#000"/><path d="M3703.6 1235.4L3719.4 1242.5 3735.2 1249.7 3750.9 1257 3766.7 1264.4 3782.5 1272 3798.3 1279.6 3814 1287.3 3829.8 1295.2 3845.6 1303.2 3861.4 1311.3 3877.1 1319.5 3892.9 1327.8 3908.7 1336.3 3924.5 1344.8 3940.2 1353.5 3956 1362.3 3971.8 1371.3 3987.6 1380.3 4003.3 1389.5 4019.1 1398.8 4034.9 1408.2 4050.7 1417.8 4066.4 1427.5 4082.2 1437.3 4098 1447.3 4113.8 1457.4 4129.5 1467.6 4145.3 1478 4161.1 1488.5 4176.9 1499.2 4192.6 1510 4208.4 1521 4224.2 1532.1 4240 1543.3 4255.7 1554.7 4271.5 1566.3 4287.3 1578 4303.1 1589.9 4318.8 1601.9 4334.6 1614.1" fill="none" stroke="#333" stroke-width="2.6" stroke-dasharray="26 10"/><path d="M3700.8 1000.9L3700.8 1221.3" fill="none" stroke="#333" stroke-width="2.6" stroke-dasharray="30 8"/><path d="M1223.8 1000.9L1223.8 1221.3" fill="none" stroke="#333" stroke-width="2.6" stroke-dasharray="30 8"/><path d="M4047.4 1874l-2.2 10h4.4zM4091.5 2031.8l-2.2 -10h4.4z" fill="#000"/><path d="M4612 1400L4628 1416" stroke="#000" stroke-width="4.5"/><path d="M4612 1699.2L4628 1715.2" stroke="#000" stroke-width="4.5"/><path d="M4612 2013.8L4628 2029.8" stroke="#000" stroke-width="4.5"/><path d="M4612 2313.4L4628 2329.4" stroke="#000" stroke-width="4.5"/><ellipse cx="3701.7" cy="2236.7" rx="6.5" ry="4.5" fill="none" stroke="#000" stroke-width="1"/><ellipse cx="3701.7" cy="2260.3" rx="6.5" ry="4.5" fill="none" stroke="#000" stroke-width="1"/><ellipse cx="3701.7" cy="2283.8" rx="6.5" ry="4.5" fill="none" stroke="#000" stroke-width="1"/><ellipse cx="3781.9" cy="2256.3" rx="4" ry="5" fill="none" stroke="#000" stroke-width="1"/><ellipse cx="3781.9" cy="2281.3" rx="4" ry="5" fill="none" stroke="#000" stroke-width="1"/><ellipse cx="3781.9" cy="2306.3" rx="4" ry="5" fill="none" stroke="#000" stroke-width="1"/><ellipse cx="1889.6" cy="2116" rx="6.5" ry="4.5" fill="none" stroke="#000" stroke-width="1"/><ellipse cx="1889.6" cy="2139.6" rx="6.5" ry="4.5" fill="none" stroke="#000" stroke-width="1"/><path d="M1842 2503.2l10 -2.2v4.4zM2000.8 2548.3l-10 -2.2v4.4z" fill="#000"/>
<g id="cols" fill="#000"><circle cx="1240" cy="769" r="13.5"/><circle cx="1240" cy="926" r="13.5"/><circle cx="1555.5" cy="769" r="13.5"/><circle cx="1555.5" cy="926" r="13.5"/><circle cx="1871" cy="769" r="13.5"/><circle cx="1871" cy="926" r="13.5"/><circle cx="2186" cy="769" r="20"/><circle cx="2186" cy="926" r="13.5"/><circle cx="2738.6" cy="769" r="20"/><circle cx="2738.6" cy="926" r="13.5"/><circle cx="3053.7" cy="769" r="13.5"/><circle cx="3053.7" cy="926" r="13.5"/><circle cx="3369.2" cy="769" r="13.5"/><circle cx="3369.2" cy="926" r="13.5"/><circle cx="3684.7" cy="769" r="13.5"/><circle cx="3684.7" cy="926" r="13.5"/><circle cx="2186" cy="1005.5" r="16"/><circle cx="2738.6" cy="1005.5" r="16"/><circle cx="1871" cy="1050" r="13.5"/><circle cx="3053.7" cy="1050" r="13.5"/><circle cx="1555.5" cy="1130" r="13.5"/><circle cx="3369.2" cy="1130" r="13.5"/><circle cx="1240" cy="1248" r="18.5"/><circle cx="3684.7" cy="1248" r="18.5"/><circle cx="924.4" cy="1408" r="13.5"/><circle cx="1240" cy="1408" r="13.5"/><circle cx="1555.5" cy="1408" r="13.5"/><circle cx="1871" cy="1408" r="13.5"/><circle cx="2186" cy="1408" r="16"/><circle cx="2738.6" cy="1408" r="16"/><circle cx="3053.7" cy="1408" r="13.5"/><circle cx="3369.2" cy="1408" r="13.5"/><circle cx="3684.7" cy="1408" r="13.5"/><circle cx="4000.3" cy="1408" r="13.5"/><circle cx="924.4" cy="1707" r="13.5"/><circle cx="1240" cy="1707" r="13.5"/><circle cx="1555.5" cy="1707" r="13.5"/><circle cx="1871" cy="1707" r="13.5"/><circle cx="2186" cy="1707" r="16"/><circle cx="2738.6" cy="1707" r="16"/><circle cx="3053.7" cy="1707" r="13.5"/><circle cx="3369.2" cy="1707" r="13.5"/><circle cx="3684.7" cy="1707" r="13.5"/><circle cx="4000.3" cy="1707" r="13.5"/><circle cx="924.4" cy="2022" r="13.5"/><circle cx="1240" cy="2022" r="13.5"/><circle cx="1555.5" cy="2022" r="13.5"/><circle cx="1871" cy="2022" r="13.5"/><circle cx="2186" cy="2022" r="16"/><circle cx="2738.6" cy="2022" r="16"/><circle cx="3053.7" cy="2022" r="13.5"/><circle cx="3369.2" cy="2022" r="13.5"/><circle cx="3684.7" cy="2022" r="13.5"/><circle cx="4000.3" cy="2022" r="13.5"/><circle cx="924.4" cy="2321.4" r="13.5"/><circle cx="1240" cy="2321.4" r="13.5"/><circle cx="1555.5" cy="2321.4" r="13.5"/><circle cx="1871" cy="2321.4" r="13.5"/><circle cx="2186" cy="2321.4" r="16"/><circle cx="2738.6" cy="2321.4" r="16"/><circle cx="3053.7" cy="2321.4" r="13.5"/><circle cx="3369.2" cy="2321.4" r="13.5"/><circle cx="3684.7" cy="2321.4" r="13.5"/><circle cx="4000.3" cy="2321.4" r="13.5"/><circle cx="609.4" cy="1619.6" r="13.5"/><circle cx="4316" cy="1619.6" r="13.5"/><circle cx="688" cy="1707" r="13.5"/><circle cx="4236.8" cy="1707" r="13.5"/><circle cx="688" cy="2022" r="13.5"/><circle cx="4236.8" cy="2022" r="13.5"/><circle cx="3474" cy="2022" r="13.5"/><circle cx="3579" cy="2022" r="13.5"/><circle cx="609.4" cy="2104" r="13.5"/><circle cx="4316" cy="2104" r="13.5"/><circle cx="1240" cy="2480.7" r="13.5"/><circle cx="3684.7" cy="2480.7" r="13.5"/><circle cx="1555.5" cy="2599" r="13.5"/><circle cx="3369.2" cy="2599" r="13.5"/><circle cx="1871" cy="2678" r="13.5"/><circle cx="3053.7" cy="2678" r="13.5"/><circle cx="2186" cy="2723" r="16"/><circle cx="2738.6" cy="2723" r="16"/></g>
<g font-family='"Noto Sans CJK SC","Liberation Sans",sans-serif'><text x="1967.7" y="944" font-size="38" font-weight="100" text-anchor="start" fill="#333" textLength="164" lengthAdjust="spacingAndGlyphs">T1-1R-01</text><text x="1994" y="985" font-size="40" font-weight="100" text-anchor="start" fill="#333" textLength="53" lengthAdjust="spacingAndGlyphs">零售</text><text x="2053" y="991" font-size="20" font-weight="300" text-anchor="start" fill="#333" textLength="59" lengthAdjust="spacingAndGlyphs">(便利店)</text><text x="1994" y="1026" font-size="40" font-weight="100" text-anchor="start" fill="#333" textLength="66" lengthAdjust="spacingAndGlyphs">36m</text><text x="2065" y="1004" font-size="18" font-weight="100" text-anchor="start" fill="#333">2</text><text x="2762" y="946" font-size="38" font-weight="100" text-anchor="start" fill="#333" textLength="134" lengthAdjust="spacingAndGlyphs">T1-1S-01</text><text x="2760" y="990" font-size="40" font-weight="100" text-anchor="start" fill="#333" textLength="134" lengthAdjust="spacingAndGlyphs">服务-柜台</text><text x="2794" y="1011" font-size="19" font-weight="300" text-anchor="start" fill="#333" textLength="76" lengthAdjust="spacingAndGlyphs">(租车咨询)</text><text x="2786" y="1060" font-size="40" font-weight="100" text-anchor="start" fill="#333" textLength="69" lengthAdjust="spacingAndGlyphs">22m</text><text x="2858" y="1037" font-size="18" font-weight="100" text-anchor="start" fill="#333">2</text><text x="2901" y="946" font-size="38" font-weight="100" text-anchor="start" fill="#333" textLength="160" lengthAdjust="spacingAndGlyphs">T1-1S-02</text><text x="2901" y="992" font-size="40" font-weight="100" text-anchor="start" fill="#333" textLength="134" lengthAdjust="spacingAndGlyphs">服务-柜台</text><text x="2932" y="1014" font-size="19" font-weight="300" text-anchor="start" fill="#333" textLength="76" lengthAdjust="spacingAndGlyphs">(旅游咨询)</text><text x="2934" y="1058" font-size="40" font-weight="100" text-anchor="start" fill="#333" textLength="69" lengthAdjust="spacingAndGlyphs">22m</text><text x="3006" y="1032" font-size="18" font-weight="100" text-anchor="start" fill="#333">2</text><text x="3172" y="1163" font-size="44" font-weight="100" text-anchor="start" fill="#333" textLength="210" lengthAdjust="spacingAndGlyphs">T1-1F-01</text><text x="3203" y="1227" font-size="58" font-weight="100" text-anchor="start" fill="#333" textLength="148" lengthAdjust="spacingAndGlyphs">远期餐饮</text><text x="3199" y="1260" font-size="20" font-weight="300" text-anchor="start" fill="#333" textLength="150" lengthAdjust="spacingAndGlyphs">(休闲饮品/咖啡烘焙)</text><text x="3218" y="1332" font-size="56" font-weight="100" text-anchor="start" fill="#333" textLength="93" lengthAdjust="spacingAndGlyphs">77m</text><text x="3313" y="1300" font-size="30" font-weight="100" text-anchor="start" fill="#333">2</text><text x="3688" y="1902" font-size="30" font-weight="100" text-anchor="start" fill="#333" textLength="112" lengthAdjust="spacingAndGlyphs">T1-2R-03</text><text x="3701" y="1965" font-size="28" font-weight="300" text-anchor="start" fill="#333" textLength="76" lengthAdjust="spacingAndGlyphs">远期零售</text><text x="3706" y="1993" font-size="22" font-weight="300" text-anchor="start" fill="#333" textLength="64" lengthAdjust="spacingAndGlyphs">(便利店)</text><text x="3716" y="2022" font-size="30" font-weight="100" text-anchor="start" fill="#333" textLength="48" lengthAdjust="spacingAndGlyphs">25m</text><text x="3765" y="2005" font-size="16" font-weight="100" text-anchor="start" fill="#333">2</text><text x="1771" y="2371" font-size="30" font-weight="100" text-anchor="start" fill="#333" textLength="112" lengthAdjust="spacingAndGlyphs">T1-2R-02</text><text x="1783" y="2418" font-size="28" font-weight="300" text-anchor="start" fill="#333" textLength="74" lengthAdjust="spacingAndGlyphs">远期零售</text><text x="1783" y="2446" font-size="20" font-weight="300" text-anchor="start" fill="#333" textLength="74" lengthAdjust="spacingAndGlyphs">(加工食品)</text><text x="1797" y="2476" font-size="30" font-weight="100" text-anchor="start" fill="#333" textLength="46" lengthAdjust="spacingAndGlyphs">22m</text><text x="1845" y="2459" font-size="16" font-weight="100" text-anchor="start" fill="#333">2</text><text x="2394" y="1215" font-size="52" font-weight="100" text-anchor="start" fill="#333" textLength="107" lengthAdjust="spacingAndGlyphs">518.82</text></g><g font-family='"Noto Sans CJK SC","Liberation Sans",sans-serif'><text x="472.6" y="1081" font-size="19" font-weight="300" text-anchor="start" fill="#222" textLength="49" lengthAdjust="spacingAndGlyphs">18.554</text><text x="472.6" y="1531" font-size="19" font-weight="300" text-anchor="start" fill="#222" textLength="49" lengthAdjust="spacingAndGlyphs">18.590</text><text x="700.5" y="1219" font-size="14" font-weight="300" text-anchor="start" fill="#222">3</text><text x="1271.5" y="1035" font-size="18" font-weight="300" text-anchor="start" fill="#222" textLength="49" lengthAdjust="spacingAndGlyphs">空调机房</text><text x="3606" y="1035" font-size="18" font-weight="300" text-anchor="start" fill="#222" textLength="50.6" lengthAdjust="spacingAndGlyphs">空调机房</text><text x="1301.6" y="1160.5" font-size="13" font-weight="300" text-anchor="start" fill="#222" textLength="37.5" lengthAdjust="spacingAndGlyphs">男卫生间</text><text x="1286.6" y="1221.5" font-size="13" font-weight="300" text-anchor="start" fill="#222" textLength="37.5" lengthAdjust="spacingAndGlyphs">女卫生间</text><text x="1400.3" y="976.5" font-size="14" font-weight="300" text-anchor="start" fill="#222" textLength="27.5" lengthAdjust="spacingAndGlyphs">M.WC</text><text x="1517" y="976.5" font-size="14" font-weight="300" text-anchor="start" fill="#222" textLength="27.5" lengthAdjust="spacingAndGlyphs">W.WC</text><text x="3382.7" y="975.5" font-size="13" font-weight="300" text-anchor="start" fill="#222" textLength="25" lengthAdjust="spacingAndGlyphs">W.WC</text><text x="3495.5" y="975.5" font-size="13" font-weight="300" text-anchor="start" fill="#222" textLength="25" lengthAdjust="spacingAndGlyphs">M.WC</text><text x="1574" y="949.5" font-size="14" font-weight="300" text-anchor="start" fill="#222" textLength="23" lengthAdjust="spacingAndGlyphs">水井</text><text x="1568" y="983" font-size="12.5" font-weight="300" text-anchor="start" fill="#222" textLength="35" lengthAdjust="spacingAndGlyphs">通风井</text><text x="3327.6" y="949.5" font-size="14" font-weight="300" text-anchor="start" fill="#222" textLength="23" lengthAdjust="spacingAndGlyphs">水井</text><text x="3320.6" y="982" font-size="12.5" font-weight="300" text-anchor="start" fill="#222" textLength="33.5" lengthAdjust="spacingAndGlyphs">通风井</text><text x="2226.5" y="1390.5" font-size="26" font-weight="300" text-anchor="start" fill="#222" textLength="55" lengthAdjust="spacingAndGlyphs">显示屏</text><text x="1956" y="1482.4" font-size="27" font-weight="300" text-anchor="start" fill="#222" textLength="140" lengthAdjust="spacingAndGlyphs">消 护 值 班 室</text><text x="1384.2" y="1501.6" font-size="17" font-weight="300" text-anchor="start" fill="#222" textLength="56" lengthAdjust="spacingAndGlyphs">VIP候机室</text><text x="1645.2" y="1522" font-size="28" font-weight="300" text-anchor="start" fill="#222" textLength="75" lengthAdjust="spacingAndGlyphs">办公区域</text><text x="1607.6" y="1744" font-size="17" font-weight="300" text-anchor="start" fill="#222" textLength="25" lengthAdjust="spacingAndGlyphs">风井</text><text x="1657.7" y="1744" font-size="17" font-weight="300" text-anchor="start" fill="#222" textLength="25" lengthAdjust="spacingAndGlyphs">风井</text><text x="1701.8" y="1744" font-size="17" font-weight="300" text-anchor="start" fill="#222" textLength="25" lengthAdjust="spacingAndGlyphs">风井</text><text x="1750.4" y="1744" font-size="17" font-weight="300" text-anchor="start" fill="#222" textLength="25" lengthAdjust="spacingAndGlyphs">风井</text><text x="1580" y="1811.4" font-size="17" font-weight="300" text-anchor="start" fill="#222" textLength="37.6" lengthAdjust="spacingAndGlyphs">配电室</text><text x="1700.3" y="1800" font-size="17" font-weight="300" text-anchor="start" fill="#222" textLength="37.6" lengthAdjust="spacingAndGlyphs">管理室</text><text x="1700.3" y="1851.5" font-size="17" font-weight="300" text-anchor="start" fill="#222" textLength="25" lengthAdjust="spacingAndGlyphs">前室</text><text x="1711.3" y="1925" font-size="13" font-weight="300" text-anchor="start" fill="#222" textLength="28" lengthAdjust="spacingAndGlyphs">W.WC</text><text x="1828" y="1925" font-size="13" font-weight="300" text-anchor="start" fill="#222" textLength="28" lengthAdjust="spacingAndGlyphs">M.WC</text><text x="2132.5" y="1769" font-size="18" font-weight="300" text-anchor="start" fill="#222" textLength="25" lengthAdjust="spacingAndGlyphs">急救</text><text x="2158.6" y="1859" font-size="18" font-weight="300" text-anchor="start" fill="#222">更</text><text x="2158.6" y="1898" font-size="18" font-weight="300" text-anchor="start" fill="#222">衣</text><text x="2158.6" y="2008" font-size="18" font-weight="300" text-anchor="start" fill="#222">更</text><text x="2158.6" y="2048" font-size="18" font-weight="300" text-anchor="start" fill="#222">衣</text><text x="1925.7" y="2106" font-size="13" font-weight="300" text-anchor="start" fill="#222" textLength="28" lengthAdjust="spacingAndGlyphs">M.WC</text><text x="782.2" y="1547.5" font-size="17" font-weight="300" text-anchor="start" fill="#222" textLength="25" lengthAdjust="spacingAndGlyphs">前室</text><text x="1024.6" y="1539.5" font-size="18" font-weight="300" text-anchor="start" fill="#222" textLength="26.5" lengthAdjust="spacingAndGlyphs">厨房</text><text x="591.3" y="1753" font-size="20" font-weight="300" text-anchor="start" fill="#222" textLength="60" lengthAdjust="spacingAndGlyphs">空调机房</text><text x="704.5" y="1789" font-size="17" font-weight="300" text-anchor="start" fill="#222" textLength="36" lengthAdjust="spacingAndGlyphs">服务间</text><text x="703.5" y="1850" font-size="17" font-weight="300" text-anchor="start" fill="#222" textLength="38" lengthAdjust="spacingAndGlyphs">服务台</text><text x="833.3" y="1848" font-size="16" font-weight="300" text-anchor="start" fill="#222" textLength="37.6" lengthAdjust="spacingAndGlyphs">卫生间</text><text x="585.3" y="1936.6" font-size="21" font-weight="300" text-anchor="start" fill="#222" textLength="66.6" lengthAdjust="spacingAndGlyphs">T1接待厅</text><text x="872.3" y="1974" font-size="17" font-weight="300" text-anchor="start" fill="#222" textLength="56" lengthAdjust="spacingAndGlyphs">VIP候机室</text><text x="841.8" y="2008" font-size="18" font-weight="300" text-anchor="start" fill="#222" textLength="60" lengthAdjust="spacingAndGlyphs">±0.000</text><text x="586.3" y="2047" font-size="18" font-weight="300" text-anchor="start" fill="#222" textLength="29" lengthAdjust="spacingAndGlyphs">水井</text><text x="474" y="1962" font-size="15" font-weight="300" text-anchor="start" fill="#222" textLength="18" lengthAdjust="spacingAndGlyphs">高带</text><text x="474" y="2083.5" font-size="17" font-weight="300" text-anchor="start" fill="#222" textLength="56" lengthAdjust="spacingAndGlyphs">消防车道</text><text x="474" y="2106" font-size="17" font-weight="300" text-anchor="start" fill="#222" textLength="81" lengthAdjust="spacingAndGlyphs">道净高4.5米</text><text x="3481.4" y="1773" font-size="25" font-weight="300" text-anchor="start" fill="#222" textLength="80" lengthAdjust="spacingAndGlyphs">配 载 室</text><text x="3328.6" y="1953" font-size="18" font-weight="300" text-anchor="start" fill="#222" textLength="88.7" lengthAdjust="spacingAndGlyphs">国际行李提取厅</text><text x="2970.5" y="1978" font-size="17" font-weight="300" text-anchor="start" fill="#222" textLength="37.6" lengthAdjust="spacingAndGlyphs">配电室</text><text x="2955.5" y="2106" font-size="17" font-weight="300" text-anchor="start" fill="#222" textLength="89" lengthAdjust="spacingAndGlyphs">差错行李寄存室</text><text x="3830" y="1978.5" font-size="26" font-weight="300" text-anchor="start" fill="#222" textLength="181" lengthAdjust="spacingAndGlyphs">8、9号远机位候机厅</text><text x="3736.8" y="2106" font-size="13" font-weight="300" text-anchor="start" fill="#222" textLength="27.5" lengthAdjust="spacingAndGlyphs">W.WC</text><text x="3871" y="1708" font-size="16" font-weight="300" text-anchor="start" fill="#222" textLength="37.6" lengthAdjust="spacingAndGlyphs">候机厅</text><text x="4081.5" y="1688.7" font-size="26" font-weight="300" text-anchor="start" fill="#222" textLength="37.6" lengthAdjust="spacingAndGlyphs">机房</text><text x="4233.3" y="1616" font-size="16" font-weight="300" text-anchor="start" fill="#222" textLength="30" lengthAdjust="spacingAndGlyphs">前 室</text><text x="4154.6" y="2058.4" font-size="16" font-weight="300" text-anchor="start" fill="#222" textLength="37" lengthAdjust="spacingAndGlyphs">监控室</text><text x="579.3" y="2201" font-size="18" font-weight="300" text-anchor="start" fill="#222" textLength="43.6" lengthAdjust="spacingAndGlyphs">工具间</text><text x="946" y="2287.3" font-size="17" font-weight="300" text-anchor="start" fill="#222" textLength="56.6" lengthAdjust="spacingAndGlyphs">VIP候机室</text><text x="1179" y="2231" font-size="26" font-weight="300" text-anchor="start" fill="#222" textLength="55" lengthAdjust="spacingAndGlyphs">卫生间</text><text x="1451" y="2417.5" font-size="26" font-weight="300" text-anchor="start" fill="#222" textLength="177" lengthAdjust="spacingAndGlyphs">1、2号远机位候机厅</text><text x="825.8" y="2735.6" font-size="16" font-weight="300" text-anchor="start" fill="#222" textLength="66" lengthAdjust="spacingAndGlyphs">现状电缆沟位置</text><text x="1898" y="2253.8" font-size="17" font-weight="300" text-anchor="start" fill="#222" textLength="38.6" lengthAdjust="spacingAndGlyphs">吸烟室</text><text x="1895.6" y="2409" font-size="17" font-weight="300" text-anchor="start" fill="#222" textLength="38.6" lengthAdjust="spacingAndGlyphs">配电室</text><text x="2116" y="2415.5" font-size="17" font-weight="300" text-anchor="start" fill="#222" textLength="38.6" lengthAdjust="spacingAndGlyphs">行李室</text><text x="2120" y="2589" font-size="26" font-weight="300" text-anchor="start" fill="#222" textLength="56" lengthAdjust="spacingAndGlyphs">休息室</text><text x="1604" y="2581" font-size="24" font-weight="300" text-anchor="start" fill="#222" textLength="78.6" lengthAdjust="spacingAndGlyphs">过 站 区</text><text x="2013" y="2511.7" font-size="16" font-weight="300" text-anchor="start" fill="#222">上</text><text x="2013" y="2556" font-size="16" font-weight="300" text-anchor="start" fill="#222">下</text><text x="2950.5" y="2220" font-size="18" font-weight="300" text-anchor="start" fill="#222" textLength="90" lengthAdjust="spacingAndGlyphs">团体行李交收处</text><text x="3330" y="2243.7" font-size="18" font-weight="300" text-anchor="start" fill="#222" textLength="76" lengthAdjust="spacingAndGlyphs">到达行李卸车</text><text x="3231" y="2477.5" font-size="18" font-weight="300" text-anchor="start" fill="#222" textLength="61" lengthAdjust="spacingAndGlyphs">±0.000</text><text x="3703.3" y="2396.5" font-size="18" font-weight="300" text-anchor="start" fill="#222" textLength="63.6" lengthAdjust="spacingAndGlyphs">调度值班室</text><text x="3735.8" y="2285.3" font-size="14" font-weight="300" text-anchor="start" fill="#222" textLength="27" lengthAdjust="spacingAndGlyphs">M.WC</text><text x="3830" y="2326.4" font-size="17" font-weight="300" text-anchor="start" fill="#222" textLength="50" lengthAdjust="spacingAndGlyphs">空调机房</text><text x="1759" y="970" font-size="11" font-weight="300" text-anchor="start" fill="#222">下</text><text x="1759" y="1024" font-size="11" font-weight="300" text-anchor="start" fill="#222">上</text><text x="3160" y="970" font-size="11" font-weight="300" text-anchor="start" fill="#222">下</text><text x="3160" y="1024" font-size="11" font-weight="300" text-anchor="start" fill="#222">上</text><text x="587.8" y="2281.3" font-size="19" font-weight="300" text-anchor="start" fill="#222" textLength="109" lengthAdjust="spacingAndGlyphs" transform="rotate(-53.4 587.8 2281.3)">VRV空调机位</text><text transform="translate(4602,1556) rotate(-90)" font-size="54" font-weight="100" text-anchor="middle" fill="#333" textLength="95" lengthAdjust="spacingAndGlyphs">11360</text><text transform="translate(4602,1864) rotate(-90)" font-size="54" font-weight="100" text-anchor="middle" fill="#333" textLength="95" lengthAdjust="spacingAndGlyphs">12000</text><text transform="translate(4602,2171) rotate(-90)" font-size="54" font-weight="100" text-anchor="middle" fill="#333" textLength="95" lengthAdjust="spacingAndGlyphs">11360</text></g>
<rect x="834" y="2926" width="3609" height="299" rx="14" fill="#ededed"/>
<g font-family='"Liberation Sans","Noto Sans CJK SC",sans-serif' font-size="76" fill="#000">
<text id="l1" x="864" y="3052" textLength="3542" lengthAdjust="spacing">T1航站楼一层规划商业6个，面积共计204m<tspan font-size="46" dy="-32">2</tspan><tspan dy="32">，规划近期商业3个、面积80m</tspan><tspan font-size="46" dy="-32">2</tspan><tspan dy="32">，远期商业3个、面积124m</tspan><tspan font-size="46" dy="-32">2</tspan><tspan dy="32">。</tspan></text>
<text id="l2" x="1307" y="3172" textLength="2683" lengthAdjust="spacing">6个点位中，零售3处，共计83m<tspan font-size="46" dy="-32">2</tspan><tspan dy="32">；餐饮1处，共计77m</tspan><tspan font-size="46" dy="-32">2</tspan><tspan dy="32">；服务2处，共计44m</tspan><tspan font-size="46" dy="-32">2</tspan><tspan dy="32">。</tspan></text>
</g>
<rect x="932" y="3255" width="295" height="102" fill="#127fbe"/>
<rect x="1693" y="3255" width="295" height="102" fill="#7dafc4"/>
<rect x="2476" y="3255" width="295" height="102" fill="#aed3e6"/>
<rect x="3261" y="3255" width="297" height="102" fill="#a0aed8"/>
<rect x="932" y="3385" width="295" height="102" fill="#c490c0"/>
<path fill="#fe0000" d="M1693 3380H1727.9V3395.6H1693ZM1759 3380H1821.5V3395.6H1759ZM1852.5 3380H1915V3395.6H1852.5ZM1946 3380H1990V3395.6H1946ZM1974.4 3380H1990V3398.4H1974.4ZM1974.4 3429.8H1990V3485H1974.4ZM1927.3 3469.3H1990V3485H1927.3ZM1834 3469.3H1896.3V3485H1834ZM1740.3 3469.3H1802.7V3485H1740.3ZM1693 3469.3H1709V3485H1693ZM1693 3438.9H1708.6V3485H1693ZM1693 3380H1708.6V3407.5H1693Z"/>
<g font-family='"Liberation Sans","Noto Sans CJK SC",sans-serif' font-size="84" font-weight="350" fill="#000">
<text transform="translate(1238,3340) skewX(-12)">零售类商业</text>
<text transform="translate(2004,3340) skewX(-12)">餐饮类商业</text>
<text transform="translate(2789,3340) skewX(-12)">休闲类商业</text>
<text transform="translate(3594,3340) skewX(-12)">服务类商业</text>
<text transform="translate(1241,3470) skewX(-12)">远期商业</text>
<text transform="translate(2006,3470) skewX(-12)">店铺开门</text>
</g>
<g fill="#107dbc">
<text id="bigT" transform="translate(-26.5,3452) scale(0.826,1)" font-family='"Liberation Sans",sans-serif' font-style="italic" font-size="481">T</text>
<text id="d1" transform="translate(185,3452) scale(0.93,1)" font-family='"DejaVu Sans",sans-serif' font-size="333">1</text>
<text id="hy" transform="translate(376.7,3433.7) scale(1,0.83)" font-family='"DejaVu Sans",sans-serif' font-size="333">-</text>
<text id="d2" transform="translate(493.6,3452) scale(0.93,1)" font-family='"DejaVu Sans",sans-serif' font-size="333">1</text>
<text id="bigL" transform="translate(700.4,3452) scale(0.79,1)" font-family='"Liberation Sans",sans-serif' font-style="italic" font-size="346.5">L</text>
</g>
<polygon points="4361,426 4609.6,544.4 4529.8,565.2" fill="#1a1a1a"/>
<polygon points="4361,426 4529.8,565.2 4525,647" fill="#fff" stroke="#111" stroke-width="2.2" stroke-linejoin="miter"/>
<text transform="translate(4345,414) rotate(-52)" font-family='"Liberation Sans",sans-serif' font-weight="700" font-size="62" text-anchor="middle">N</text>
<g id="logo" fill="#107dbc">
<path fill-rule="evenodd" d="M4089 3347H4139.5A51.5 51.5 0 0 1 4139.5 3450H4089Z M4113 3371V3426H4139.5A27.5 27.5 0 0 0 4139.5 3371Z"/>
<rect x="4111" y="3347" width="3" height="26" fill="#fff"/><rect x="4089" y="3424" width="26" height="3" fill="#fff"/><rect x="4132" y="3426" width="3" height="24" fill="#fff"/>
<path d="M4284 3347H4253A51.5 51.5 0 0 0 4253 3450H4284V3426H4253A27.5 27.5 0 0 1 4253 3371H4284Z"/>
<rect x="4302" y="3347" width="25" height="103"/>
<path fill-rule="evenodd" d="M4342 3347H4378.5A51.5 51.5 0 0 1 4378.5 3450H4342Z M4366 3371V3426H4378.5A27.5 27.5 0 0 0 4378.5 3371Z"/>
<rect x="4342" y="3347" width="26" height="103" fill="#107dbc"/>
<rect x="4366" y="3347" width="3" height="26" fill="#fff"/><rect x="4366" y="3426" width="3" height="24" fill="#fff"/>
</g>
<text id="lg1" x="4463" y="3418" font-family='"Liberation Serif","Noto Serif CJK SC",serif' font-weight="700" font-size="76" textLength="455" lengthAdjust="spacing">鼎诚规划设计</text>
<text id="lg2" x="4461" y="3448" font-family='"Liberation Sans",sans-serif' font-size="19.5" fill="#222" textLength="455" lengthAdjust="spacingAndGlyphs">Specialize In Airport Commercial Space Planning And Designing</text></svg></body></html>
